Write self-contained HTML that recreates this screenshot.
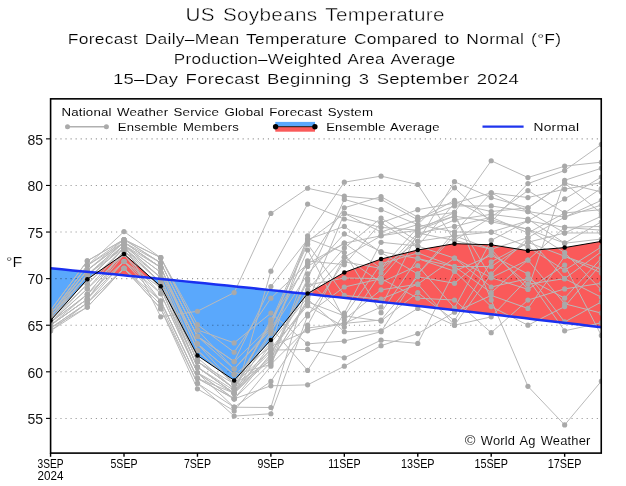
<!DOCTYPE html><html><head><meta charset="utf-8"><style>html,body{margin:0;padding:0;background:#fff;}svg{display:block;will-change:transform;}text{font-family:"Liberation Sans",sans-serif;}</style></head><body>
<svg width="626" height="486" viewBox="0 0 626 486">
<defs><clipPath id="c"><rect x="50.6" y="98.85" width="550.65" height="354.25"/></clipPath></defs>
<g clip-path="url(#c)">
<polygon fill="#5aa8fc" points="50.57,320.56 51.07,320.00 51.57,319.44 52.07,318.87 52.57,318.31 53.07,317.75 53.57,317.19 54.07,316.63 54.57,316.06 55.07,315.50 55.57,314.94 56.07,314.38 56.57,313.82 57.07,313.25 57.57,312.69 58.07,312.13 58.57,311.57 59.07,311.01 59.57,310.44 60.07,309.88 60.57,309.32 61.07,308.76 61.57,308.20 62.07,307.63 62.57,307.07 63.07,306.51 63.57,305.95 64.07,305.38 64.57,304.82 65.07,304.26 65.57,303.70 66.07,303.14 66.57,302.57 67.07,302.01 67.57,301.45 68.07,300.89 68.57,300.33 69.07,299.76 69.57,299.20 70.07,298.64 70.57,298.08 71.07,297.52 71.57,296.95 72.07,296.39 72.57,295.83 73.07,295.27 73.57,294.71 74.07,294.14 74.57,293.58 75.07,293.02 75.57,292.46 76.07,291.90 76.57,291.33 77.07,290.77 77.57,290.21 78.07,289.65 78.57,289.08 79.07,288.52 79.57,287.96 80.07,287.40 80.57,286.84 81.07,286.27 81.57,285.71 82.07,285.15 82.57,284.59 83.07,284.03 83.57,283.46 84.07,282.90 84.57,282.34 85.07,281.78 85.57,281.22 86.07,280.65 86.57,280.09 87.07,279.53 87.29,279.28 87.57,279.09 88.07,278.74 88.57,278.40 89.07,278.05 89.57,277.71 90.07,277.36 90.57,277.02 91.07,276.67 91.57,276.33 92.07,275.98 92.57,275.64 93.07,275.29 93.57,274.95 94.07,274.60 94.57,274.26 95.07,273.91 95.57,273.57 96.07,273.22 96.57,272.88 96.83,272.70 96.83,272.70 96.57,272.67 96.07,272.63 95.57,272.58 95.07,272.53 94.57,272.48 94.07,272.44 93.57,272.39 93.07,272.34 92.57,272.29 92.07,272.24 91.57,272.20 91.07,272.15 90.57,272.10 90.07,272.05 89.57,272.00 89.07,271.96 88.57,271.91 88.07,271.86 87.57,271.81 87.29,271.79 87.07,271.77 86.57,271.72 86.07,271.67 85.57,271.62 85.07,271.57 84.57,271.53 84.07,271.48 83.57,271.43 83.07,271.38 82.57,271.34 82.07,271.29 81.57,271.24 81.07,271.19 80.57,271.15 80.07,271.10 79.57,271.05 79.07,271.00 78.57,270.96 78.07,270.91 77.57,270.86 77.07,270.81 76.57,270.77 76.07,270.72 75.57,270.67 75.07,270.62 74.57,270.58 74.07,270.53 73.57,270.48 73.07,270.43 72.57,270.39 72.07,270.34 71.57,270.29 71.07,270.24 70.57,270.20 70.07,270.15 69.57,270.10 69.07,270.05 68.57,270.01 68.07,269.96 67.57,269.91 67.07,269.87 66.57,269.82 66.07,269.77 65.57,269.72 65.07,269.68 64.57,269.63 64.07,269.58 63.57,269.54 63.07,269.49 62.57,269.44 62.07,269.39 61.57,269.35 61.07,269.30 60.57,269.25 60.07,269.21 59.57,269.16 59.07,269.11 58.57,269.06 58.07,269.02 57.57,268.97 57.07,268.92 56.57,268.88 56.07,268.83 55.57,268.78 55.07,268.73 54.57,268.69 54.07,268.64 53.57,268.59 53.07,268.55 52.57,268.50 52.07,268.45 51.57,268.41 51.07,268.36 50.57,268.31"/>
<polygon fill="#fa5a5a" points="96.83,272.70 97.07,272.53 97.57,272.19 98.07,271.84 98.57,271.50 99.07,271.15 99.57,270.81 100.07,270.46 100.57,270.12 101.07,269.77 101.57,269.43 102.07,269.08 102.57,268.74 103.07,268.39 103.57,268.05 104.07,267.70 104.57,267.36 105.07,267.01 105.57,266.66 106.07,266.32 106.57,265.97 107.07,265.63 107.57,265.28 108.07,264.94 108.57,264.59 109.07,264.25 109.57,263.90 110.07,263.56 110.57,263.21 111.07,262.87 111.57,262.52 112.07,262.18 112.57,261.83 113.07,261.49 113.57,261.14 114.07,260.80 114.57,260.45 115.07,260.11 115.57,259.76 116.07,259.42 116.57,259.07 117.07,258.73 117.57,258.38 118.07,258.04 118.57,257.69 119.07,257.35 119.57,257.00 120.07,256.66 120.57,256.31 121.07,255.97 121.57,255.62 122.07,255.28 122.57,254.93 123.07,254.59 123.57,254.24 124.01,253.94 124.07,253.99 124.57,254.43 125.07,254.87 125.57,255.31 126.07,255.75 126.57,256.19 127.07,256.63 127.57,257.07 128.07,257.51 128.57,257.95 129.07,258.39 129.57,258.83 130.07,259.27 130.57,259.71 131.07,260.15 131.57,260.59 132.07,261.03 132.57,261.47 133.07,261.92 133.57,262.36 134.07,262.80 134.57,263.24 135.07,263.68 135.57,264.12 136.07,264.56 136.57,265.00 137.07,265.44 137.57,265.88 138.07,266.32 138.57,266.76 139.07,267.20 139.57,267.64 140.07,268.08 140.57,268.52 141.07,268.96 141.57,269.40 142.07,269.84 142.57,270.28 143.07,270.72 143.57,271.16 144.07,271.60 144.57,272.04 145.07,272.48 145.57,272.92 146.07,273.36 146.57,273.80 147.07,274.24 147.57,274.68 148.07,275.12 148.57,275.56 149.07,276.00 149.57,276.44 150.07,276.88 150.57,277.32 151.07,277.76 151.34,278.00 151.34,278.00 151.07,277.98 150.57,277.93 150.07,277.88 149.57,277.83 149.07,277.78 148.57,277.73 148.07,277.68 147.57,277.63 147.07,277.58 146.57,277.53 146.07,277.48 145.57,277.43 145.07,277.38 144.57,277.34 144.07,277.29 143.57,277.24 143.07,277.19 142.57,277.14 142.07,277.09 141.57,277.04 141.07,276.99 140.57,276.94 140.07,276.89 139.57,276.84 139.07,276.80 138.57,276.75 138.07,276.70 137.57,276.65 137.07,276.60 136.57,276.55 136.07,276.50 135.57,276.45 135.07,276.40 134.57,276.36 134.07,276.31 133.57,276.26 133.07,276.21 132.57,276.16 132.07,276.11 131.57,276.06 131.07,276.01 130.57,275.96 130.07,275.92 129.57,275.87 129.07,275.82 128.57,275.77 128.07,275.72 127.57,275.67 127.07,275.62 126.57,275.57 126.07,275.53 125.57,275.48 125.07,275.43 124.57,275.38 124.07,275.33 124.01,275.33 123.57,275.28 123.07,275.23 122.57,275.19 122.07,275.14 121.57,275.09 121.07,275.04 120.57,274.99 120.07,274.94 119.57,274.89 119.07,274.85 118.57,274.80 118.07,274.75 117.57,274.70 117.07,274.65 116.57,274.60 116.07,274.55 115.57,274.51 115.07,274.46 114.57,274.41 114.07,274.36 113.57,274.31 113.07,274.26 112.57,274.22 112.07,274.17 111.57,274.12 111.07,274.07 110.57,274.02 110.07,273.97 109.57,273.93 109.07,273.88 108.57,273.83 108.07,273.78 107.57,273.73 107.07,273.68 106.57,273.64 106.07,273.59 105.57,273.54 105.07,273.49 104.57,273.44 104.07,273.40 103.57,273.35 103.07,273.30 102.57,273.25 102.07,273.20 101.57,273.16 101.07,273.11 100.57,273.06 100.07,273.01 99.57,272.96 99.07,272.91 98.57,272.87 98.07,272.82 97.57,272.77 97.07,272.72 96.83,272.70"/>
<polygon fill="#5aa8fc" points="151.34,278.00 151.57,278.21 152.07,278.65 152.57,279.09 153.07,279.53 153.57,279.97 154.07,280.41 154.57,280.85 155.07,281.29 155.57,281.73 156.07,282.17 156.57,282.61 157.07,283.05 157.57,283.49 158.07,283.93 158.57,284.37 159.07,284.81 159.57,285.25 160.07,285.69 160.57,286.13 160.73,286.27 161.07,286.91 161.57,287.85 162.07,288.80 162.57,289.74 163.07,290.68 163.57,291.63 164.07,292.57 164.57,293.51 165.07,294.45 165.57,295.40 166.07,296.34 166.57,297.28 167.07,298.22 167.57,299.17 168.07,300.11 168.57,301.05 169.07,302.00 169.57,302.94 170.07,303.88 170.57,304.82 171.07,305.77 171.57,306.71 172.07,307.65 172.57,308.59 173.07,309.54 173.57,310.48 174.07,311.42 174.57,312.37 175.07,313.31 175.57,314.25 176.07,315.19 176.57,316.14 177.07,317.08 177.57,318.02 178.07,318.96 178.57,319.91 179.07,320.85 179.57,321.79 180.07,322.73 180.57,323.68 181.07,324.62 181.57,325.56 182.07,326.51 182.57,327.45 183.07,328.39 183.57,329.33 184.07,330.28 184.57,331.22 185.07,332.16 185.57,333.10 186.07,334.05 186.57,334.99 187.07,335.93 187.57,336.88 188.07,337.82 188.57,338.76 189.07,339.70 189.57,340.65 190.07,341.59 190.57,342.53 191.07,343.47 191.57,344.42 192.07,345.36 192.57,346.30 193.07,347.25 193.57,348.19 194.07,349.13 194.57,350.07 195.07,351.02 195.57,351.96 196.07,352.90 196.57,353.84 197.07,354.79 197.45,355.50 197.57,355.58 198.07,355.92 198.57,356.26 199.07,356.60 199.57,356.94 200.07,357.28 200.57,357.62 201.07,357.96 201.57,358.29 202.07,358.63 202.57,358.97 203.07,359.31 203.57,359.65 204.07,359.99 204.57,360.33 205.07,360.67 205.57,361.01 206.07,361.34 206.57,361.68 207.07,362.02 207.57,362.36 208.07,362.70 208.57,363.04 209.07,363.38 209.57,363.72 210.07,364.05 210.57,364.39 211.07,364.73 211.57,365.07 212.07,365.41 212.57,365.75 213.07,366.09 213.57,366.43 214.07,366.76 214.57,367.10 215.07,367.44 215.57,367.78 216.07,368.12 216.57,368.46 217.07,368.80 217.57,369.14 218.07,369.47 218.57,369.81 219.07,370.15 219.57,370.49 220.07,370.83 220.57,371.17 221.07,371.51 221.57,371.85 222.07,372.18 222.57,372.52 223.07,372.86 223.57,373.20 224.07,373.54 224.57,373.88 225.07,374.22 225.57,374.56 226.07,374.89 226.57,375.23 227.07,375.57 227.57,375.91 228.07,376.25 228.57,376.59 229.07,376.93 229.57,377.27 230.07,377.60 230.57,377.94 231.07,378.28 231.57,378.62 232.07,378.96 232.57,379.30 233.07,379.64 233.57,379.98 234.07,380.31 234.17,380.38 234.57,379.94 235.07,379.39 235.57,378.84 236.07,378.29 236.57,377.74 237.07,377.19 237.57,376.64 238.07,376.09 238.57,375.54 239.07,374.99 239.57,374.44 240.07,373.88 240.57,373.33 241.07,372.78 241.57,372.23 242.07,371.68 242.57,371.13 243.07,370.58 243.57,370.03 244.07,369.48 244.57,368.93 245.07,368.38 245.57,367.83 246.07,367.28 246.57,366.73 247.07,366.18 247.57,365.62 248.07,365.07 248.57,364.52 249.07,363.97 249.57,363.42 250.07,362.87 250.57,362.32 251.07,361.77 251.57,361.22 252.07,360.67 252.57,360.12 253.07,359.57 253.57,359.02 254.07,358.47 254.57,357.92 255.07,357.37 255.57,356.81 256.07,356.26 256.57,355.71 257.07,355.16 257.57,354.61 258.07,354.06 258.57,353.51 259.07,352.96 259.57,352.41 260.07,351.86 260.57,351.31 261.07,350.76 261.57,350.21 262.07,349.66 262.57,349.11 263.07,348.55 263.57,348.00 264.07,347.45 264.57,346.90 265.07,346.35 265.57,345.80 266.07,345.25 266.57,344.70 267.07,344.15 267.57,343.60 268.07,343.05 268.57,342.50 269.07,341.95 269.57,341.40 270.07,340.85 270.57,340.29 270.89,339.94 271.07,339.71 271.57,339.08 272.07,338.45 272.57,337.82 273.07,337.19 273.57,336.56 274.07,335.92 274.57,335.29 275.07,334.66 275.57,334.03 276.07,333.40 276.57,332.76 277.07,332.13 277.57,331.50 278.07,330.87 278.57,330.24 279.07,329.61 279.57,328.97 280.07,328.34 280.57,327.71 281.07,327.08 281.57,326.45 282.07,325.81 282.57,325.18 283.07,324.55 283.57,323.92 284.07,323.29 284.57,322.65 285.07,322.02 285.57,321.39 286.07,320.76 286.57,320.13 287.07,319.50 287.57,318.86 288.07,318.23 288.57,317.60 289.07,316.97 289.57,316.34 290.07,315.70 290.57,315.07 291.07,314.44 291.57,313.81 292.07,313.18 292.57,312.55 293.07,311.91 293.57,311.28 294.07,310.65 294.57,310.02 295.07,309.39 295.57,308.75 296.07,308.12 296.57,307.49 297.07,306.86 297.57,306.23 298.07,305.59 298.57,304.96 299.07,304.33 299.57,303.70 300.07,303.07 300.57,302.44 301.07,301.80 301.57,301.17 302.07,300.54 302.57,299.91 303.07,299.28 303.57,298.64 304.07,298.01 304.57,297.38 305.07,296.75 305.57,296.12 306.07,295.48 306.57,294.85 307.07,294.22 307.28,293.96 307.28,293.96 307.07,293.94 306.57,293.88 306.07,293.83 305.57,293.78 305.07,293.72 304.57,293.67 304.07,293.62 303.57,293.57 303.07,293.51 302.57,293.46 302.07,293.41 301.57,293.35 301.07,293.30 300.57,293.25 300.07,293.19 299.57,293.14 299.07,293.09 298.57,293.04 298.07,292.98 297.57,292.93 297.07,292.88 296.57,292.83 296.07,292.77 295.57,292.72 295.07,292.67 294.57,292.61 294.07,292.56 293.57,292.51 293.07,292.46 292.57,292.40 292.07,292.35 291.57,292.30 291.07,292.25 290.57,292.19 290.07,292.14 289.57,292.09 289.07,292.03 288.57,291.98 288.07,291.93 287.57,291.88 287.07,291.82 286.57,291.77 286.07,291.72 285.57,291.67 285.07,291.61 284.57,291.56 284.07,291.51 283.57,291.46 283.07,291.40 282.57,291.35 282.07,291.30 281.57,291.25 281.07,291.19 280.57,291.14 280.07,291.09 279.57,291.04 279.07,290.99 278.57,290.93 278.07,290.88 277.57,290.83 277.07,290.78 276.57,290.72 276.07,290.67 275.57,290.62 275.07,290.57 274.57,290.51 274.07,290.46 273.57,290.41 273.07,290.36 272.57,290.31 272.07,290.25 271.57,290.20 271.07,290.15 270.89,290.13 270.57,290.10 270.07,290.04 269.57,289.99 269.07,289.94 268.57,289.89 268.07,289.84 267.57,289.78 267.07,289.73 266.57,289.68 266.07,289.63 265.57,289.58 265.07,289.52 264.57,289.47 264.07,289.42 263.57,289.37 263.07,289.32 262.57,289.26 262.07,289.21 261.57,289.16 261.07,289.11 260.57,289.06 260.07,289.00 259.57,288.95 259.07,288.90 258.57,288.85 258.07,288.80 257.57,288.74 257.07,288.69 256.57,288.64 256.07,288.59 255.57,288.54 255.07,288.49 254.57,288.43 254.07,288.38 253.57,288.33 253.07,288.28 252.57,288.23 252.07,288.18 251.57,288.12 251.07,288.07 250.57,288.02 250.07,287.97 249.57,287.92 249.07,287.87 248.57,287.81 248.07,287.76 247.57,287.71 247.07,287.66 246.57,287.61 246.07,287.56 245.57,287.50 245.07,287.45 244.57,287.40 244.07,287.35 243.57,287.30 243.07,287.25 242.57,287.19 242.07,287.14 241.57,287.09 241.07,287.04 240.57,286.99 240.07,286.94 239.57,286.89 239.07,286.83 238.57,286.78 238.07,286.73 237.57,286.68 237.07,286.63 236.57,286.58 236.07,286.53 235.57,286.48 235.07,286.42 234.57,286.37 234.17,286.33 234.07,286.32 233.57,286.27 233.07,286.22 232.57,286.17 232.07,286.12 231.57,286.07 231.07,286.01 230.57,285.96 230.07,285.91 229.57,285.86 229.07,285.81 228.57,285.76 228.07,285.71 227.57,285.66 227.07,285.60 226.57,285.55 226.07,285.50 225.57,285.45 225.07,285.40 224.57,285.35 224.07,285.30 223.57,285.25 223.07,285.20 222.57,285.15 222.07,285.09 221.57,285.04 221.07,284.99 220.57,284.94 220.07,284.89 219.57,284.84 219.07,284.79 218.57,284.74 218.07,284.69 217.57,284.64 217.07,284.59 216.57,284.53 216.07,284.48 215.57,284.43 215.07,284.38 214.57,284.33 214.07,284.28 213.57,284.23 213.07,284.18 212.57,284.13 212.07,284.08 211.57,284.03 211.07,283.98 210.57,283.92 210.07,283.87 209.57,283.82 209.07,283.77 208.57,283.72 208.07,283.67 207.57,283.62 207.07,283.57 206.57,283.52 206.07,283.47 205.57,283.42 205.07,283.37 204.57,283.32 204.07,283.27 203.57,283.22 203.07,283.17 202.57,283.11 202.07,283.06 201.57,283.01 201.07,282.96 200.57,282.91 200.07,282.86 199.57,282.81 199.07,282.76 198.57,282.71 198.07,282.66 197.57,282.61 197.45,282.60 197.07,282.56 196.57,282.51 196.07,282.46 195.57,282.41 195.07,282.36 194.57,282.31 194.07,282.26 193.57,282.21 193.07,282.16 192.57,282.11 192.07,282.06 191.57,282.01 191.07,281.96 190.57,281.91 190.07,281.86 189.57,281.81 189.07,281.76 188.57,281.71 188.07,281.65 187.57,281.60 187.07,281.55 186.57,281.50 186.07,281.45 185.57,281.40 185.07,281.35 184.57,281.30 184.07,281.25 183.57,281.20 183.07,281.15 182.57,281.10 182.07,281.05 181.57,281.00 181.07,280.95 180.57,280.90 180.07,280.85 179.57,280.80 179.07,280.75 178.57,280.70 178.07,280.65 177.57,280.60 177.07,280.55 176.57,280.50 176.07,280.45 175.57,280.40 175.07,280.35 174.57,280.30 174.07,280.25 173.57,280.21 173.07,280.16 172.57,280.11 172.07,280.06 171.57,280.01 171.07,279.96 170.57,279.91 170.07,279.86 169.57,279.81 169.07,279.76 168.57,279.71 168.07,279.66 167.57,279.61 167.07,279.56 166.57,279.51 166.07,279.46 165.57,279.41 165.07,279.36 164.57,279.31 164.07,279.26 163.57,279.21 163.07,279.16 162.57,279.11 162.07,279.06 161.57,279.01 161.07,278.96 160.73,278.93 160.57,278.91 160.07,278.86 159.57,278.81 159.07,278.77 158.57,278.72 158.07,278.67 157.57,278.62 157.07,278.57 156.57,278.52 156.07,278.47 155.57,278.42 155.07,278.37 154.57,278.32 154.07,278.27 153.57,278.22 153.07,278.17 152.57,278.12 152.07,278.07 151.57,278.02 151.34,278.00"/>
<polygon fill="#fa5a5a" points="307.28,293.96 307.57,293.59 307.61,293.54 308.07,293.27 308.57,292.99 309.07,292.70 309.57,292.41 310.07,292.12 310.57,291.83 311.07,291.55 311.57,291.26 312.07,290.97 312.57,290.68 313.07,290.39 313.57,290.11 314.07,289.82 314.57,289.53 315.07,289.24 315.57,288.95 316.07,288.67 316.57,288.38 317.07,288.09 317.57,287.80 318.07,287.51 318.57,287.23 319.07,286.94 319.57,286.65 320.07,286.36 320.57,286.07 321.07,285.79 321.57,285.50 322.07,285.21 322.57,284.92 323.07,284.63 323.57,284.35 324.07,284.06 324.57,283.77 325.07,283.48 325.57,283.19 326.07,282.91 326.57,282.62 327.07,282.33 327.57,282.04 328.07,281.75 328.57,281.47 329.07,281.18 329.57,280.89 330.07,280.60 330.57,280.31 331.07,280.03 331.57,279.74 332.07,279.45 332.57,279.16 333.07,278.87 333.57,278.59 334.07,278.30 334.57,278.01 335.07,277.72 335.57,277.43 336.07,277.14 336.57,276.86 337.07,276.57 337.57,276.28 338.07,275.99 338.57,275.70 339.07,275.42 339.57,275.13 340.07,274.84 340.57,274.55 341.07,274.26 341.57,273.98 342.07,273.69 342.57,273.40 343.07,273.11 343.57,272.82 344.07,272.54 344.33,272.39 344.57,272.30 345.07,272.12 345.57,271.94 346.07,271.76 346.57,271.57 347.07,271.39 347.57,271.21 348.07,271.03 348.57,270.85 349.07,270.67 349.57,270.49 350.07,270.30 350.57,270.12 351.07,269.94 351.57,269.76 352.07,269.58 352.57,269.40 353.07,269.22 353.57,269.03 354.07,268.85 354.57,268.67 355.07,268.49 355.57,268.31 356.07,268.13 356.57,267.95 357.07,267.76 357.57,267.58 358.07,267.40 358.57,267.22 359.07,267.04 359.57,266.86 360.07,266.68 360.57,266.49 361.07,266.31 361.57,266.13 362.07,265.95 362.57,265.77 363.07,265.59 363.57,265.41 364.07,265.22 364.57,265.04 365.07,264.86 365.57,264.68 366.07,264.50 366.57,264.32 367.07,264.14 367.57,263.95 368.07,263.77 368.57,263.59 369.07,263.41 369.57,263.23 370.07,263.05 370.57,262.87 371.07,262.68 371.57,262.50 372.07,262.32 372.57,262.14 373.07,261.96 373.57,261.78 374.07,261.60 374.57,261.41 375.07,261.23 375.57,261.05 376.07,260.87 376.57,260.69 377.07,260.51 377.57,260.33 378.07,260.14 378.57,259.96 379.07,259.78 379.57,259.60 380.07,259.42 380.57,259.24 381.05,259.06 381.07,259.06 381.57,258.93 382.07,258.81 382.57,258.69 383.07,258.56 383.57,258.44 384.07,258.32 384.57,258.20 385.07,258.07 385.57,257.95 386.07,257.83 386.57,257.70 387.07,257.58 387.57,257.46 388.07,257.33 388.57,257.21 389.07,257.09 389.57,256.97 390.07,256.84 390.57,256.72 391.07,256.60 391.57,256.47 392.07,256.35 392.57,256.23 393.07,256.10 393.57,255.98 394.07,255.86 394.57,255.73 395.07,255.61 395.57,255.49 396.07,255.37 396.57,255.24 397.07,255.12 397.57,255.00 398.07,254.87 398.57,254.75 399.07,254.63 399.57,254.50 400.07,254.38 400.57,254.26 401.07,254.13 401.57,254.01 402.07,253.89 402.57,253.77 403.07,253.64 403.57,253.52 404.07,253.40 404.57,253.27 405.07,253.15 405.57,253.03 406.07,252.90 406.57,252.78 407.07,252.66 407.57,252.53 408.07,252.41 408.57,252.29 409.07,252.17 409.57,252.04 410.07,251.92 410.57,251.80 411.07,251.67 411.57,251.55 412.07,251.43 412.57,251.30 413.07,251.18 413.57,251.06 414.07,250.93 414.57,250.81 415.07,250.69 415.57,250.57 416.07,250.44 416.57,250.32 417.07,250.20 417.57,250.07 417.77,250.02 418.07,249.97 418.57,249.89 419.07,249.80 419.57,249.71 420.07,249.63 420.57,249.54 421.07,249.45 421.57,249.37 422.07,249.28 422.57,249.20 423.07,249.11 423.57,249.02 424.07,248.94 424.57,248.85 425.07,248.76 425.57,248.68 426.07,248.59 426.57,248.51 427.07,248.42 427.57,248.33 428.07,248.25 428.57,248.16 429.07,248.07 429.57,247.99 430.07,247.90 430.57,247.82 431.07,247.73 431.57,247.64 432.07,247.56 432.57,247.47 433.07,247.38 433.57,247.30 434.07,247.21 434.57,247.12 435.07,247.04 435.57,246.95 436.07,246.87 436.57,246.78 437.07,246.69 437.57,246.61 438.07,246.52 438.57,246.43 439.07,246.35 439.57,246.26 440.07,246.18 440.57,246.09 441.07,246.00 441.57,245.92 442.07,245.83 442.57,245.74 443.07,245.66 443.57,245.57 444.07,245.49 444.57,245.40 445.07,245.31 445.57,245.23 446.07,245.14 446.57,245.05 447.07,244.97 447.57,244.88 448.07,244.80 448.57,244.71 449.07,244.62 449.57,244.54 450.07,244.45 450.57,244.36 451.07,244.28 451.57,244.19 452.07,244.11 452.57,244.02 453.07,243.93 453.57,243.85 454.07,243.76 454.49,243.69 454.57,243.69 455.07,243.71 455.57,243.72 456.07,243.74 456.57,243.75 457.07,243.77 457.57,243.78 458.07,243.80 458.57,243.81 459.07,243.83 459.57,243.84 460.07,243.86 460.57,243.87 461.07,243.89 461.57,243.90 462.07,243.92 462.57,243.93 463.07,243.95 463.57,243.96 464.07,243.98 464.57,243.99 465.07,244.01 465.57,244.02 466.07,244.04 466.57,244.06 467.07,244.07 467.57,244.09 468.07,244.10 468.57,244.12 469.07,244.13 469.57,244.15 470.07,244.16 470.57,244.18 471.07,244.19 471.57,244.21 472.07,244.22 472.57,244.24 473.07,244.25 473.57,244.27 474.07,244.28 474.57,244.30 475.07,244.31 475.57,244.33 476.07,244.34 476.57,244.36 477.07,244.38 477.57,244.39 478.07,244.41 478.57,244.42 479.07,244.44 479.57,244.45 480.07,244.47 480.57,244.48 481.07,244.50 481.57,244.51 482.07,244.53 482.57,244.54 483.07,244.56 483.57,244.57 484.07,244.59 484.57,244.60 485.07,244.62 485.57,244.63 486.07,244.65 486.57,244.66 487.07,244.68 487.57,244.69 488.07,244.71 488.57,244.73 489.07,244.74 489.57,244.76 490.07,244.77 490.57,244.79 491.07,244.80 491.21,244.81 491.57,244.86 492.07,244.94 492.57,245.02 493.07,245.10 493.57,245.18 494.07,245.26 494.57,245.34 495.07,245.42 495.57,245.50 496.07,245.58 496.57,245.66 497.07,245.74 497.57,245.82 498.07,245.90 498.57,245.98 499.07,246.06 499.57,246.14 500.07,246.22 500.57,246.30 501.07,246.38 501.57,246.46 502.07,246.54 502.57,246.62 503.07,246.70 503.57,246.78 504.07,246.86 504.57,246.94 505.07,247.02 505.57,247.10 506.07,247.18 506.57,247.26 507.07,247.34 507.57,247.42 508.07,247.50 508.57,247.58 509.07,247.66 509.57,247.74 510.07,247.82 510.57,247.90 511.07,247.98 511.57,248.06 512.07,248.14 512.57,248.22 513.07,248.30 513.57,248.38 514.07,248.46 514.57,248.54 515.07,248.62 515.57,248.70 516.07,248.78 516.57,248.86 517.07,248.94 517.57,249.02 518.07,249.10 518.57,249.18 519.07,249.26 519.57,249.34 520.07,249.42 520.57,249.50 521.07,249.58 521.57,249.66 522.07,249.74 522.57,249.82 523.07,249.90 523.57,249.98 524.07,250.06 524.57,250.14 525.07,250.22 525.57,250.30 526.07,250.38 526.57,250.46 527.07,250.54 527.57,250.62 527.93,250.68 528.07,250.66 528.57,250.62 529.07,250.58 529.57,250.54 530.07,250.50 530.57,250.45 531.07,250.41 531.57,250.37 532.07,250.33 532.57,250.29 533.07,250.25 533.57,250.20 534.07,250.16 534.57,250.12 535.07,250.08 535.57,250.04 536.07,249.99 536.57,249.95 537.07,249.91 537.57,249.87 538.07,249.83 538.57,249.79 539.07,249.74 539.57,249.70 540.07,249.66 540.57,249.62 541.07,249.58 541.57,249.53 542.07,249.49 542.57,249.45 543.07,249.41 543.57,249.37 544.07,249.32 544.57,249.28 545.07,249.24 545.57,249.20 546.07,249.16 546.57,249.12 547.07,249.07 547.57,249.03 548.07,248.99 548.57,248.95 549.07,248.91 549.57,248.86 550.07,248.82 550.57,248.78 551.07,248.74 551.57,248.70 552.07,248.65 552.57,248.61 553.07,248.57 553.57,248.53 554.07,248.49 554.57,248.45 555.07,248.40 555.57,248.36 556.07,248.32 556.57,248.28 557.07,248.24 557.57,248.19 558.07,248.15 558.57,248.11 559.07,248.07 559.57,248.03 560.07,247.98 560.57,247.94 561.07,247.90 561.57,247.86 562.07,247.82 562.57,247.78 563.07,247.73 563.57,247.69 564.07,247.65 564.57,247.61 564.65,247.60 565.07,247.53 565.57,247.44 566.07,247.36 566.57,247.27 567.07,247.19 567.57,247.10 568.07,247.02 568.57,246.93 569.07,246.85 569.57,246.76 570.07,246.68 570.57,246.59 571.07,246.51 571.57,246.42 572.07,246.34 572.57,246.25 573.07,246.17 573.57,246.08 574.07,246.00 574.57,245.91 575.07,245.83 575.57,245.74 576.07,245.66 576.57,245.57 577.07,245.49 577.57,245.40 578.07,245.32 578.57,245.23 579.07,245.15 579.57,245.06 580.07,244.98 580.57,244.89 581.07,244.81 581.57,244.72 582.07,244.64 582.57,244.55 583.07,244.47 583.57,244.38 584.07,244.30 584.57,244.21 585.07,244.13 585.57,244.04 586.07,243.96 586.57,243.87 587.07,243.79 587.57,243.70 588.07,243.62 588.57,243.53 589.07,243.45 589.57,243.36 590.07,243.28 590.57,243.19 591.07,243.11 591.57,243.02 592.07,242.94 592.57,242.85 593.07,242.77 593.57,242.68 594.07,242.60 594.57,242.51 595.07,242.43 595.57,242.34 596.07,242.26 596.57,242.17 597.07,242.09 597.57,242.00 598.07,241.92 598.57,241.83 599.07,241.75 599.57,241.66 600.07,241.58 600.57,241.49 601.07,241.41 601.37,241.36 601.37,327.23 601.07,327.20 600.57,327.14 600.07,327.08 599.57,327.02 599.07,326.96 598.57,326.90 598.07,326.84 597.57,326.78 597.07,326.72 596.57,326.66 596.07,326.60 595.57,326.54 595.07,326.48 594.57,326.42 594.07,326.36 593.57,326.30 593.07,326.24 592.57,326.18 592.07,326.12 591.57,326.06 591.07,326.00 590.57,325.94 590.07,325.88 589.57,325.82 589.07,325.76 588.57,325.70 588.07,325.64 587.57,325.58 587.07,325.52 586.57,325.46 586.07,325.40 585.57,325.34 585.07,325.28 584.57,325.22 584.07,325.16 583.57,325.10 583.07,325.04 582.57,324.98 582.07,324.92 581.57,324.86 581.07,324.80 580.57,324.74 580.07,324.68 579.57,324.62 579.07,324.56 578.57,324.50 578.07,324.45 577.57,324.39 577.07,324.33 576.57,324.27 576.07,324.21 575.57,324.15 575.07,324.09 574.57,324.03 574.07,323.97 573.57,323.91 573.07,323.85 572.57,323.79 572.07,323.73 571.57,323.67 571.07,323.61 570.57,323.55 570.07,323.49 569.57,323.43 569.07,323.38 568.57,323.32 568.07,323.26 567.57,323.20 567.07,323.14 566.57,323.08 566.07,323.02 565.57,322.96 565.07,322.90 564.65,322.85 564.57,322.84 564.07,322.78 563.57,322.72 563.07,322.66 562.57,322.60 562.07,322.55 561.57,322.49 561.07,322.43 560.57,322.37 560.07,322.31 559.57,322.25 559.07,322.19 558.57,322.13 558.07,322.07 557.57,322.01 557.07,321.95 556.57,321.90 556.07,321.84 555.57,321.78 555.07,321.72 554.57,321.66 554.07,321.60 553.57,321.54 553.07,321.48 552.57,321.42 552.07,321.36 551.57,321.31 551.07,321.25 550.57,321.19 550.07,321.13 549.57,321.07 549.07,321.01 548.57,320.95 548.07,320.89 547.57,320.84 547.07,320.78 546.57,320.72 546.07,320.66 545.57,320.60 545.07,320.54 544.57,320.48 544.07,320.42 543.57,320.37 543.07,320.31 542.57,320.25 542.07,320.19 541.57,320.13 541.07,320.07 540.57,320.01 540.07,319.95 539.57,319.90 539.07,319.84 538.57,319.78 538.07,319.72 537.57,319.66 537.07,319.60 536.57,319.54 536.07,319.49 535.57,319.43 535.07,319.37 534.57,319.31 534.07,319.25 533.57,319.19 533.07,319.13 532.57,319.08 532.07,319.02 531.57,318.96 531.07,318.90 530.57,318.84 530.07,318.78 529.57,318.73 529.07,318.67 528.57,318.61 528.07,318.55 527.93,318.53 527.57,318.49 527.07,318.43 526.57,318.38 526.07,318.32 525.57,318.26 525.07,318.20 524.57,318.14 524.07,318.08 523.57,318.03 523.07,317.97 522.57,317.91 522.07,317.85 521.57,317.79 521.07,317.73 520.57,317.68 520.07,317.62 519.57,317.56 519.07,317.50 518.57,317.44 518.07,317.39 517.57,317.33 517.07,317.27 516.57,317.21 516.07,317.15 515.57,317.10 515.07,317.04 514.57,316.98 514.07,316.92 513.57,316.86 513.07,316.81 512.57,316.75 512.07,316.69 511.57,316.63 511.07,316.57 510.57,316.52 510.07,316.46 509.57,316.40 509.07,316.34 508.57,316.28 508.07,316.23 507.57,316.17 507.07,316.11 506.57,316.05 506.07,315.99 505.57,315.94 505.07,315.88 504.57,315.82 504.07,315.76 503.57,315.71 503.07,315.65 502.57,315.59 502.07,315.53 501.57,315.48 501.07,315.42 500.57,315.36 500.07,315.30 499.57,315.24 499.07,315.19 498.57,315.13 498.07,315.07 497.57,315.01 497.07,314.96 496.57,314.90 496.07,314.84 495.57,314.78 495.07,314.73 494.57,314.67 494.07,314.61 493.57,314.55 493.07,314.50 492.57,314.44 492.07,314.38 491.57,314.32 491.21,314.28 491.07,314.27 490.57,314.21 490.07,314.15 489.57,314.09 489.07,314.04 488.57,313.98 488.07,313.92 487.57,313.86 487.07,313.81 486.57,313.75 486.07,313.69 485.57,313.63 485.07,313.58 484.57,313.52 484.07,313.46 483.57,313.41 483.07,313.35 482.57,313.29 482.07,313.23 481.57,313.18 481.07,313.12 480.57,313.06 480.07,313.00 479.57,312.95 479.07,312.89 478.57,312.83 478.07,312.78 477.57,312.72 477.07,312.66 476.57,312.60 476.07,312.55 475.57,312.49 475.07,312.43 474.57,312.38 474.07,312.32 473.57,312.26 473.07,312.21 472.57,312.15 472.07,312.09 471.57,312.03 471.07,311.98 470.57,311.92 470.07,311.86 469.57,311.81 469.07,311.75 468.57,311.69 468.07,311.64 467.57,311.58 467.07,311.52 466.57,311.46 466.07,311.41 465.57,311.35 465.07,311.29 464.57,311.24 464.07,311.18 463.57,311.12 463.07,311.07 462.57,311.01 462.07,310.95 461.57,310.90 461.07,310.84 460.57,310.78 460.07,310.73 459.57,310.67 459.07,310.61 458.57,310.56 458.07,310.50 457.57,310.44 457.07,310.39 456.57,310.33 456.07,310.27 455.57,310.22 455.07,310.16 454.57,310.10 454.49,310.09 454.07,310.05 453.57,309.99 453.07,309.93 452.57,309.88 452.07,309.82 451.57,309.76 451.07,309.71 450.57,309.65 450.07,309.59 449.57,309.54 449.07,309.48 448.57,309.43 448.07,309.37 447.57,309.31 447.07,309.26 446.57,309.20 446.07,309.14 445.57,309.09 445.07,309.03 444.57,308.97 444.07,308.92 443.57,308.86 443.07,308.81 442.57,308.75 442.07,308.69 441.57,308.64 441.07,308.58 440.57,308.52 440.07,308.47 439.57,308.41 439.07,308.36 438.57,308.30 438.07,308.24 437.57,308.19 437.07,308.13 436.57,308.07 436.07,308.02 435.57,307.96 435.07,307.91 434.57,307.85 434.07,307.79 433.57,307.74 433.07,307.68 432.57,307.63 432.07,307.57 431.57,307.51 431.07,307.46 430.57,307.40 430.07,307.35 429.57,307.29 429.07,307.23 428.57,307.18 428.07,307.12 427.57,307.07 427.07,307.01 426.57,306.95 426.07,306.90 425.57,306.84 425.07,306.79 424.57,306.73 424.07,306.67 423.57,306.62 423.07,306.56 422.57,306.51 422.07,306.45 421.57,306.40 421.07,306.34 420.57,306.28 420.07,306.23 419.57,306.17 419.07,306.12 418.57,306.06 418.07,306.01 417.77,305.97 417.57,305.95 417.07,305.89 416.57,305.84 416.07,305.78 415.57,305.73 415.07,305.67 414.57,305.62 414.07,305.56 413.57,305.50 413.07,305.45 412.57,305.39 412.07,305.34 411.57,305.28 411.07,305.23 410.57,305.17 410.07,305.12 409.57,305.06 409.07,305.00 408.57,304.95 408.07,304.89 407.57,304.84 407.07,304.78 406.57,304.73 406.07,304.67 405.57,304.62 405.07,304.56 404.57,304.51 404.07,304.45 403.57,304.40 403.07,304.34 402.57,304.28 402.07,304.23 401.57,304.17 401.07,304.12 400.57,304.06 400.07,304.01 399.57,303.95 399.07,303.90 398.57,303.84 398.07,303.79 397.57,303.73 397.07,303.68 396.57,303.62 396.07,303.57 395.57,303.51 395.07,303.46 394.57,303.40 394.07,303.35 393.57,303.29 393.07,303.24 392.57,303.18 392.07,303.13 391.57,303.07 391.07,303.02 390.57,302.96 390.07,302.91 389.57,302.85 389.07,302.80 388.57,302.74 388.07,302.69 387.57,302.63 387.07,302.58 386.57,302.52 386.07,302.47 385.57,302.41 385.07,302.36 384.57,302.30 384.07,302.25 383.57,302.19 383.07,302.14 382.57,302.08 382.07,302.03 381.57,301.97 381.07,301.92 381.05,301.91 380.57,301.86 380.07,301.81 379.57,301.75 379.07,301.70 378.57,301.64 378.07,301.59 377.57,301.53 377.07,301.48 376.57,301.42 376.07,301.37 375.57,301.31 375.07,301.26 374.57,301.20 374.07,301.15 373.57,301.10 373.07,301.04 372.57,300.99 372.07,300.93 371.57,300.88 371.07,300.82 370.57,300.77 370.07,300.71 369.57,300.66 369.07,300.60 368.57,300.55 368.07,300.50 367.57,300.44 367.07,300.39 366.57,300.33 366.07,300.28 365.57,300.22 365.07,300.17 364.57,300.11 364.07,300.06 363.57,300.01 363.07,299.95 362.57,299.90 362.07,299.84 361.57,299.79 361.07,299.73 360.57,299.68 360.07,299.63 359.57,299.57 359.07,299.52 358.57,299.46 358.07,299.41 357.57,299.35 357.07,299.30 356.57,299.25 356.07,299.19 355.57,299.14 355.07,299.08 354.57,299.03 354.07,298.97 353.57,298.92 353.07,298.87 352.57,298.81 352.07,298.76 351.57,298.70 351.07,298.65 350.57,298.60 350.07,298.54 349.57,298.49 349.07,298.43 348.57,298.38 348.07,298.33 347.57,298.27 347.07,298.22 346.57,298.16 346.07,298.11 345.57,298.06 345.07,298.00 344.57,297.95 344.33,297.92 344.07,297.89 343.57,297.84 343.07,297.79 342.57,297.73 342.07,297.68 341.57,297.62 341.07,297.57 340.57,297.52 340.07,297.46 339.57,297.41 339.07,297.35 338.57,297.30 338.07,297.25 337.57,297.19 337.07,297.14 336.57,297.09 336.07,297.03 335.57,296.98 335.07,296.92 334.57,296.87 334.07,296.82 333.57,296.76 333.07,296.71 332.57,296.66 332.07,296.60 331.57,296.55 331.07,296.50 330.57,296.44 330.07,296.39 329.57,296.33 329.07,296.28 328.57,296.23 328.07,296.17 327.57,296.12 327.07,296.07 326.57,296.01 326.07,295.96 325.57,295.91 325.07,295.85 324.57,295.80 324.07,295.75 323.57,295.69 323.07,295.64 322.57,295.59 322.07,295.53 321.57,295.48 321.07,295.43 320.57,295.37 320.07,295.32 319.57,295.27 319.07,295.21 318.57,295.16 318.07,295.11 317.57,295.05 317.07,295.00 316.57,294.95 316.07,294.89 315.57,294.84 315.07,294.79 314.57,294.73 314.07,294.68 313.57,294.63 313.07,294.57 312.57,294.52 312.07,294.47 311.57,294.41 311.07,294.36 310.57,294.31 310.07,294.25 309.57,294.20 309.07,294.15 308.57,294.10 308.07,294.04 307.61,293.99 307.57,293.99 307.28,293.96"/>
<line x1="55.35" y1="418.40" x2="601.25" y2="418.40" stroke="#000" stroke-opacity="0.4" stroke-width="1.05" stroke-dasharray="1.15 3.91"/>
<line x1="55.35" y1="371.81" x2="601.25" y2="371.81" stroke="#000" stroke-opacity="0.4" stroke-width="1.05" stroke-dasharray="1.15 3.91"/>
<line x1="55.35" y1="325.22" x2="601.25" y2="325.22" stroke="#000" stroke-opacity="0.4" stroke-width="1.05" stroke-dasharray="1.15 3.91"/>
<line x1="55.35" y1="278.63" x2="601.25" y2="278.63" stroke="#000" stroke-opacity="0.4" stroke-width="1.05" stroke-dasharray="1.15 3.91"/>
<line x1="55.35" y1="232.04" x2="601.25" y2="232.04" stroke="#000" stroke-opacity="0.4" stroke-width="1.05" stroke-dasharray="1.15 3.91"/>
<line x1="55.35" y1="185.45" x2="601.25" y2="185.45" stroke="#000" stroke-opacity="0.4" stroke-width="1.05" stroke-dasharray="1.15 3.91"/>
<line x1="55.35" y1="138.86" x2="601.25" y2="138.86" stroke="#000" stroke-opacity="0.4" stroke-width="1.05" stroke-dasharray="1.15 3.91"/>
<polyline fill="none" stroke="#b9b9b9" stroke-width="1" points="50.57,316.83 87.29,274.90 124.01,242.29 160.73,316.83 197.45,311.24 234.17,292.61 270.89,213.40 307.61,188.25 344.33,196.17 381.05,199.43 417.77,219.93 454.49,205.95 491.21,205.95 527.93,211.54 564.65,217.13 601.37,205.02"/>
<polyline fill="none" stroke="#b9b9b9" stroke-width="1" points="50.57,328.02 87.29,302.86 124.01,261.48 160.73,287.95 197.45,372.74 234.17,398.83 270.89,271.18 307.61,204.09 344.33,218.99 381.05,227.38 417.77,230.18 454.49,216.20 491.21,221.79 527.93,229.24 564.65,243.22 601.37,239.03"/>
<polyline fill="none" stroke="#b9b9b9" stroke-width="1" points="50.57,325.22 87.29,294.47 124.01,250.68 160.73,287.95 197.45,367.15 234.17,393.24 270.89,344.72 307.61,235.77 344.33,182.19 381.05,176.13 417.77,184.52 454.49,240.43 491.21,249.28 527.93,237.63 564.65,217.13 601.37,200.36"/>
<polyline fill="none" stroke="#b9b9b9" stroke-width="1" points="50.57,325.22 87.29,299.13 124.01,250.68 160.73,287.95 197.45,372.74 234.17,398.83 270.89,353.68 307.61,289.81 344.33,247.88 381.05,218.06 417.77,241.36 454.49,181.72 491.21,197.56 527.93,207.81 564.65,183.12 601.37,191.97"/>
<polyline fill="none" stroke="#b9b9b9" stroke-width="1" points="50.57,330.81 87.29,302.86 124.01,268.38 160.73,308.63 197.45,383.27 234.17,407.22 270.89,381.41 307.61,325.22 344.33,257.20 381.05,235.77 417.77,230.18 454.49,212.47 491.21,160.76 527.93,177.53 564.65,166.16 601.37,162.15"/>
<polyline fill="none" stroke="#b9b9b9" stroke-width="1" points="50.57,314.04 87.29,265.58 124.01,231.57 160.73,257.66 197.45,324.66 234.17,352.24 270.89,298.20 307.61,263.72 344.33,207.81 381.05,196.63 417.77,217.13 454.49,212.47 491.21,300.06 527.93,386.35 564.65,424.92 601.37,381.13"/>
<polyline fill="none" stroke="#b9b9b9" stroke-width="1" points="50.57,322.42 87.29,288.88 124.01,254.40 160.73,300.99 197.45,378.33 234.17,398.83 270.89,385.79 307.61,384.86 344.33,366.22 381.05,345.72 417.77,333.61 454.49,312.17 491.21,295.40 527.93,308.45 564.65,256.27 601.37,273.04"/>
<polyline fill="none" stroke="#b9b9b9" stroke-width="1" points="50.57,316.83 87.29,270.24 124.01,242.29 160.73,262.79 197.45,336.40 234.17,369.01 270.89,327.62 307.61,370.41 344.33,313.11 381.05,242.29 417.77,246.02 454.49,203.15 491.21,211.54 527.93,207.81 564.65,183.12 601.37,213.40"/>
<polyline fill="none" stroke="#b9b9b9" stroke-width="1" points="50.57,316.83 87.29,274.90 124.01,245.09 160.73,277.70 197.45,361.56 234.17,383.92 270.89,350.09 307.61,349.45 344.33,357.83 381.05,340.13 417.77,343.39 454.49,271.18 491.21,255.33 527.93,273.97 564.65,321.96 601.37,301.92"/>
<polyline fill="none" stroke="#b9b9b9" stroke-width="1" points="50.57,310.31 87.29,260.93 124.01,239.49 160.73,257.66 197.45,329.88 234.17,342.92 270.89,313.11 307.61,343.86 344.33,341.06 381.05,331.74 417.77,273.97 454.49,235.77 491.21,232.04 527.93,220.86 564.65,198.96 601.37,177.06"/>
<polyline fill="none" stroke="#b9b9b9" stroke-width="1" points="50.57,330.81 87.29,307.05 124.01,268.38 160.73,304.72 197.45,383.27 234.17,416.07 270.89,413.74 307.61,315.90 344.33,261.86 381.05,268.38 417.77,227.38 454.49,216.20 491.21,277.70 527.93,289.35 564.65,265.12 601.37,335.47"/>
<polyline fill="none" stroke="#b9b9b9" stroke-width="1" points="50.57,325.22 87.29,299.13 124.01,254.40 160.73,293.54 197.45,372.74 234.17,407.22 270.89,407.50 307.61,285.15 344.33,277.98 381.05,278.63 417.77,298.20 454.49,300.06 491.21,332.67 527.93,300.06 564.65,288.88 601.37,283.29"/>
<polyline fill="none" stroke="#b9b9b9" stroke-width="1" points="50.57,328.02 87.29,307.05 124.01,268.38 160.73,308.63 197.45,388.86 234.17,410.95 270.89,366.22 307.61,266.52 344.33,243.22 381.05,235.77 417.77,224.59 454.49,187.78 491.21,221.79 527.93,183.59 564.65,170.54 601.37,144.45"/>
<polyline fill="none" stroke="#b9b9b9" stroke-width="1" points="50.57,319.63 87.29,284.22 124.01,247.88 160.73,277.70 197.45,361.56 234.17,388.58 270.89,319.63 307.61,263.72 344.33,243.22 381.05,268.38 417.77,241.36 454.49,235.77 491.21,249.28 527.93,289.35 564.65,180.33 601.37,168.21"/>
<polyline fill="none" stroke="#b9b9b9" stroke-width="1" points="50.57,316.83 87.29,270.24 124.01,242.29 160.73,267.45 197.45,343.86 234.17,383.92 270.89,342.92 307.61,297.27 344.33,257.20 381.05,282.36 417.77,265.58 454.49,307.98 491.21,240.43 527.93,220.86 564.65,227.38 601.37,230.18"/>
<polyline fill="none" stroke="#b9b9b9" stroke-width="1" points="50.57,319.63 87.29,274.90 124.01,242.29 160.73,267.45 197.45,350.38 234.17,383.92 270.89,360.84 307.61,301.92 344.33,315.90 381.05,321.03 417.77,292.61 454.49,320.56 491.21,261.86 527.93,242.29 564.65,256.27 601.37,269.31"/>
<polyline fill="none" stroke="#b9b9b9" stroke-width="1" points="50.57,322.42 87.29,284.22 124.01,247.88 160.73,282.36 197.45,367.15 234.17,393.24 270.89,355.47 307.61,278.63 344.33,199.43 381.05,209.68 417.77,224.59 454.49,232.04 491.21,192.90 527.93,211.54 564.65,232.97 601.37,216.20"/>
<polyline fill="none" stroke="#b9b9b9" stroke-width="1" points="50.57,325.22 87.29,299.13 124.01,261.48 160.73,293.54 197.45,372.74 234.17,393.24 270.89,348.30 307.61,305.65 344.33,327.08 381.05,273.04 417.77,232.97 454.49,240.43 491.21,217.13 527.93,232.97 564.65,212.94 601.37,209.68"/>
<polyline fill="none" stroke="#b9b9b9" stroke-width="1" points="50.57,322.42 87.29,294.47 124.01,261.48 160.73,300.99 197.45,378.33 234.17,393.24 270.89,359.05 307.61,280.49 344.33,315.90 381.05,263.72 417.77,252.91 454.49,266.52 491.21,292.61 527.93,259.99 564.65,303.79 601.37,313.11"/>
<polyline fill="none" stroke="#b9b9b9" stroke-width="1" points="50.57,314.04 87.29,265.58 124.01,242.29 160.73,267.45 197.45,350.38 234.17,383.92 270.89,323.62 307.61,244.15 344.33,295.40 381.05,299.13 417.77,284.22 454.49,325.22 491.21,273.97 527.93,237.63 564.65,278.63 601.37,297.27"/>
<polyline fill="none" stroke="#b9b9b9" stroke-width="1" points="50.57,328.02 87.29,302.86 124.01,268.38 160.73,300.99 197.45,378.33 234.17,398.83 270.89,362.64 307.61,299.13 344.33,331.74 381.05,330.81 417.77,308.45 454.49,325.22 491.21,316.83 527.93,278.63 564.65,330.81 601.37,322.80"/>
<polyline fill="none" stroke="#b9b9b9" stroke-width="1" points="50.57,319.63 87.29,279.56 124.01,245.09 160.73,272.39 197.45,343.86 234.17,374.61 270.89,346.51 307.61,330.81 344.33,323.36 381.05,307.05 417.77,232.97 454.49,226.45 491.21,217.13 527.93,190.57 564.65,212.94 601.37,188.25"/>
<polyline fill="none" stroke="#b9b9b9" stroke-width="1" points="50.57,316.83 87.29,274.90 124.01,247.88 160.73,282.36 197.45,367.15 234.17,393.24 270.89,333.61 307.61,250.02 344.33,319.63 381.05,289.81 417.77,284.22 454.49,258.13 491.21,287.02 527.93,278.63 564.65,298.20 601.37,258.13"/>
<polyline fill="none" stroke="#b9b9b9" stroke-width="1" points="50.57,319.63 87.29,279.56 124.01,245.09 160.73,277.70 197.45,361.56 234.17,388.58 270.89,321.63 307.61,238.56 344.33,252.54 381.05,312.64 417.77,258.60 454.49,266.52 491.21,266.52 527.93,242.29 564.65,232.97 601.37,232.97"/>
<polyline fill="none" stroke="#b9b9b9" stroke-width="1" points="50.57,319.63 87.29,279.56 124.01,245.09 160.73,267.45 197.45,343.86 234.17,374.61 270.89,364.43 307.61,328.02 344.33,323.36 381.05,320.00 417.77,276.77 454.49,283.29 491.21,252.54 527.93,284.22 564.65,278.63 601.37,251.61"/>
<polyline fill="none" stroke="#b9b9b9" stroke-width="1" points="50.57,319.63 87.29,279.56 124.01,245.09 160.73,272.39 197.45,357.83 234.17,388.58 270.89,351.88 307.61,302.39 344.33,213.40 381.05,222.72 417.77,246.02 454.49,258.13 491.21,277.70 527.93,259.99 564.65,227.38 601.37,226.45"/>
<polyline fill="none" stroke="#b9b9b9" stroke-width="1" points="50.57,322.42 87.29,288.88 124.01,247.88 160.73,282.36 197.45,367.15 234.17,390.45 270.89,357.26 307.61,314.04 344.33,287.02 381.05,278.63 417.77,235.77 454.49,219.93 491.21,214.34 527.93,218.99 564.65,243.22 601.37,221.79"/>
<polyline fill="none" stroke="#b9b9b9" stroke-width="1" points="50.57,322.42 87.29,294.47 124.01,250.68 160.73,282.36 197.45,361.56 234.17,388.58 270.89,331.61 307.61,273.97 344.33,233.90 381.05,251.61 417.77,258.60 454.49,271.18 491.21,306.58 527.93,325.22 564.65,306.58 601.37,263.72"/>
<polyline fill="none" stroke="#b9b9b9" stroke-width="1" points="50.57,310.31 87.29,260.93 124.01,239.49 160.73,257.66 197.45,329.88 234.17,369.01 270.89,329.61 307.61,260.93 344.33,264.65 381.05,222.72 417.77,209.68 454.49,203.15 491.21,192.90 527.93,197.56 564.65,189.18 601.37,182.65"/>
<polyline fill="none" stroke="#b9b9b9" stroke-width="1" points="50.57,314.04 87.29,270.24 124.01,239.49 160.73,262.79 197.45,336.40 234.17,361.56 270.89,286.55 307.61,239.49 344.33,226.45 381.05,252.54 417.77,273.97 454.49,232.04 491.21,232.04 527.93,246.95 564.65,270.24 601.37,246.95"/>
<polyline fill="none" stroke="#b9b9b9" stroke-width="1" points="50.57,314.04 87.29,265.58 124.01,239.49 160.73,262.79 197.45,336.40 234.17,361.56 270.89,325.62 307.61,241.36 344.33,213.40 381.05,232.04 417.77,219.93 454.49,200.36 491.21,219.93 527.93,229.24 564.65,252.54 601.37,289.81"/>
<circle cx="50.57" cy="310.31" r="2.6" fill="#a9a9a9"/>
<circle cx="50.57" cy="310.31" r="2.6" fill="#a9a9a9"/>
<circle cx="50.57" cy="314.04" r="2.6" fill="#a9a9a9"/>
<circle cx="50.57" cy="314.04" r="2.6" fill="#a9a9a9"/>
<circle cx="50.57" cy="314.04" r="2.6" fill="#a9a9a9"/>
<circle cx="50.57" cy="314.04" r="2.6" fill="#a9a9a9"/>
<circle cx="50.57" cy="316.83" r="2.6" fill="#a9a9a9"/>
<circle cx="50.57" cy="316.83" r="2.6" fill="#a9a9a9"/>
<circle cx="50.57" cy="316.83" r="2.6" fill="#a9a9a9"/>
<circle cx="50.57" cy="316.83" r="2.6" fill="#a9a9a9"/>
<circle cx="50.57" cy="316.83" r="2.6" fill="#a9a9a9"/>
<circle cx="50.57" cy="319.63" r="2.6" fill="#a9a9a9"/>
<circle cx="50.57" cy="319.63" r="2.6" fill="#a9a9a9"/>
<circle cx="50.57" cy="319.63" r="2.6" fill="#a9a9a9"/>
<circle cx="50.57" cy="319.63" r="2.6" fill="#a9a9a9"/>
<circle cx="50.57" cy="319.63" r="2.6" fill="#a9a9a9"/>
<circle cx="50.57" cy="319.63" r="2.6" fill="#a9a9a9"/>
<circle cx="50.57" cy="322.42" r="2.6" fill="#a9a9a9"/>
<circle cx="50.57" cy="322.42" r="2.6" fill="#a9a9a9"/>
<circle cx="50.57" cy="322.42" r="2.6" fill="#a9a9a9"/>
<circle cx="50.57" cy="322.42" r="2.6" fill="#a9a9a9"/>
<circle cx="50.57" cy="322.42" r="2.6" fill="#a9a9a9"/>
<circle cx="50.57" cy="325.22" r="2.6" fill="#a9a9a9"/>
<circle cx="50.57" cy="325.22" r="2.6" fill="#a9a9a9"/>
<circle cx="50.57" cy="325.22" r="2.6" fill="#a9a9a9"/>
<circle cx="50.57" cy="325.22" r="2.6" fill="#a9a9a9"/>
<circle cx="50.57" cy="328.02" r="2.6" fill="#a9a9a9"/>
<circle cx="50.57" cy="328.02" r="2.6" fill="#a9a9a9"/>
<circle cx="50.57" cy="328.02" r="2.6" fill="#a9a9a9"/>
<circle cx="50.57" cy="330.81" r="2.6" fill="#a9a9a9"/>
<circle cx="50.57" cy="330.81" r="2.6" fill="#a9a9a9"/>
<circle cx="87.29" cy="260.93" r="2.6" fill="#a9a9a9"/>
<circle cx="87.29" cy="260.93" r="2.6" fill="#a9a9a9"/>
<circle cx="87.29" cy="265.58" r="2.6" fill="#a9a9a9"/>
<circle cx="87.29" cy="265.58" r="2.6" fill="#a9a9a9"/>
<circle cx="87.29" cy="265.58" r="2.6" fill="#a9a9a9"/>
<circle cx="87.29" cy="270.24" r="2.6" fill="#a9a9a9"/>
<circle cx="87.29" cy="270.24" r="2.6" fill="#a9a9a9"/>
<circle cx="87.29" cy="270.24" r="2.6" fill="#a9a9a9"/>
<circle cx="87.29" cy="274.90" r="2.6" fill="#a9a9a9"/>
<circle cx="87.29" cy="274.90" r="2.6" fill="#a9a9a9"/>
<circle cx="87.29" cy="274.90" r="2.6" fill="#a9a9a9"/>
<circle cx="87.29" cy="274.90" r="2.6" fill="#a9a9a9"/>
<circle cx="87.29" cy="279.56" r="2.6" fill="#a9a9a9"/>
<circle cx="87.29" cy="279.56" r="2.6" fill="#a9a9a9"/>
<circle cx="87.29" cy="279.56" r="2.6" fill="#a9a9a9"/>
<circle cx="87.29" cy="279.56" r="2.6" fill="#a9a9a9"/>
<circle cx="87.29" cy="284.22" r="2.6" fill="#a9a9a9"/>
<circle cx="87.29" cy="284.22" r="2.6" fill="#a9a9a9"/>
<circle cx="87.29" cy="288.88" r="2.6" fill="#a9a9a9"/>
<circle cx="87.29" cy="288.88" r="2.6" fill="#a9a9a9"/>
<circle cx="87.29" cy="294.47" r="2.6" fill="#a9a9a9"/>
<circle cx="87.29" cy="294.47" r="2.6" fill="#a9a9a9"/>
<circle cx="87.29" cy="294.47" r="2.6" fill="#a9a9a9"/>
<circle cx="87.29" cy="299.13" r="2.6" fill="#a9a9a9"/>
<circle cx="87.29" cy="299.13" r="2.6" fill="#a9a9a9"/>
<circle cx="87.29" cy="299.13" r="2.6" fill="#a9a9a9"/>
<circle cx="87.29" cy="302.86" r="2.6" fill="#a9a9a9"/>
<circle cx="87.29" cy="302.86" r="2.6" fill="#a9a9a9"/>
<circle cx="87.29" cy="302.86" r="2.6" fill="#a9a9a9"/>
<circle cx="87.29" cy="307.05" r="2.6" fill="#a9a9a9"/>
<circle cx="87.29" cy="307.05" r="2.6" fill="#a9a9a9"/>
<circle cx="124.01" cy="231.57" r="2.6" fill="#a9a9a9"/>
<circle cx="124.01" cy="239.49" r="2.6" fill="#a9a9a9"/>
<circle cx="124.01" cy="239.49" r="2.6" fill="#a9a9a9"/>
<circle cx="124.01" cy="239.49" r="2.6" fill="#a9a9a9"/>
<circle cx="124.01" cy="239.49" r="2.6" fill="#a9a9a9"/>
<circle cx="124.01" cy="242.29" r="2.6" fill="#a9a9a9"/>
<circle cx="124.01" cy="242.29" r="2.6" fill="#a9a9a9"/>
<circle cx="124.01" cy="242.29" r="2.6" fill="#a9a9a9"/>
<circle cx="124.01" cy="242.29" r="2.6" fill="#a9a9a9"/>
<circle cx="124.01" cy="242.29" r="2.6" fill="#a9a9a9"/>
<circle cx="124.01" cy="245.09" r="2.6" fill="#a9a9a9"/>
<circle cx="124.01" cy="245.09" r="2.6" fill="#a9a9a9"/>
<circle cx="124.01" cy="245.09" r="2.6" fill="#a9a9a9"/>
<circle cx="124.01" cy="245.09" r="2.6" fill="#a9a9a9"/>
<circle cx="124.01" cy="245.09" r="2.6" fill="#a9a9a9"/>
<circle cx="124.01" cy="247.88" r="2.6" fill="#a9a9a9"/>
<circle cx="124.01" cy="247.88" r="2.6" fill="#a9a9a9"/>
<circle cx="124.01" cy="247.88" r="2.6" fill="#a9a9a9"/>
<circle cx="124.01" cy="247.88" r="2.6" fill="#a9a9a9"/>
<circle cx="124.01" cy="250.68" r="2.6" fill="#a9a9a9"/>
<circle cx="124.01" cy="250.68" r="2.6" fill="#a9a9a9"/>
<circle cx="124.01" cy="250.68" r="2.6" fill="#a9a9a9"/>
<circle cx="124.01" cy="254.40" r="2.6" fill="#a9a9a9"/>
<circle cx="124.01" cy="254.40" r="2.6" fill="#a9a9a9"/>
<circle cx="124.01" cy="261.48" r="2.6" fill="#a9a9a9"/>
<circle cx="124.01" cy="261.48" r="2.6" fill="#a9a9a9"/>
<circle cx="124.01" cy="261.48" r="2.6" fill="#a9a9a9"/>
<circle cx="124.01" cy="268.38" r="2.6" fill="#a9a9a9"/>
<circle cx="124.01" cy="268.38" r="2.6" fill="#a9a9a9"/>
<circle cx="124.01" cy="268.38" r="2.6" fill="#a9a9a9"/>
<circle cx="124.01" cy="268.38" r="2.6" fill="#a9a9a9"/>
<circle cx="160.73" cy="257.66" r="2.6" fill="#a9a9a9"/>
<circle cx="160.73" cy="257.66" r="2.6" fill="#a9a9a9"/>
<circle cx="160.73" cy="257.66" r="2.6" fill="#a9a9a9"/>
<circle cx="160.73" cy="262.79" r="2.6" fill="#a9a9a9"/>
<circle cx="160.73" cy="262.79" r="2.6" fill="#a9a9a9"/>
<circle cx="160.73" cy="262.79" r="2.6" fill="#a9a9a9"/>
<circle cx="160.73" cy="267.45" r="2.6" fill="#a9a9a9"/>
<circle cx="160.73" cy="267.45" r="2.6" fill="#a9a9a9"/>
<circle cx="160.73" cy="267.45" r="2.6" fill="#a9a9a9"/>
<circle cx="160.73" cy="267.45" r="2.6" fill="#a9a9a9"/>
<circle cx="160.73" cy="272.39" r="2.6" fill="#a9a9a9"/>
<circle cx="160.73" cy="272.39" r="2.6" fill="#a9a9a9"/>
<circle cx="160.73" cy="277.70" r="2.6" fill="#a9a9a9"/>
<circle cx="160.73" cy="277.70" r="2.6" fill="#a9a9a9"/>
<circle cx="160.73" cy="277.70" r="2.6" fill="#a9a9a9"/>
<circle cx="160.73" cy="282.36" r="2.6" fill="#a9a9a9"/>
<circle cx="160.73" cy="282.36" r="2.6" fill="#a9a9a9"/>
<circle cx="160.73" cy="282.36" r="2.6" fill="#a9a9a9"/>
<circle cx="160.73" cy="282.36" r="2.6" fill="#a9a9a9"/>
<circle cx="160.73" cy="287.95" r="2.6" fill="#a9a9a9"/>
<circle cx="160.73" cy="287.95" r="2.6" fill="#a9a9a9"/>
<circle cx="160.73" cy="287.95" r="2.6" fill="#a9a9a9"/>
<circle cx="160.73" cy="293.54" r="2.6" fill="#a9a9a9"/>
<circle cx="160.73" cy="293.54" r="2.6" fill="#a9a9a9"/>
<circle cx="160.73" cy="300.99" r="2.6" fill="#a9a9a9"/>
<circle cx="160.73" cy="300.99" r="2.6" fill="#a9a9a9"/>
<circle cx="160.73" cy="300.99" r="2.6" fill="#a9a9a9"/>
<circle cx="160.73" cy="304.72" r="2.6" fill="#a9a9a9"/>
<circle cx="160.73" cy="308.63" r="2.6" fill="#a9a9a9"/>
<circle cx="160.73" cy="308.63" r="2.6" fill="#a9a9a9"/>
<circle cx="160.73" cy="316.83" r="2.6" fill="#a9a9a9"/>
<circle cx="197.45" cy="311.24" r="2.6" fill="#a9a9a9"/>
<circle cx="197.45" cy="324.66" r="2.6" fill="#a9a9a9"/>
<circle cx="197.45" cy="329.88" r="2.6" fill="#a9a9a9"/>
<circle cx="197.45" cy="329.88" r="2.6" fill="#a9a9a9"/>
<circle cx="197.45" cy="336.40" r="2.6" fill="#a9a9a9"/>
<circle cx="197.45" cy="336.40" r="2.6" fill="#a9a9a9"/>
<circle cx="197.45" cy="336.40" r="2.6" fill="#a9a9a9"/>
<circle cx="197.45" cy="343.86" r="2.6" fill="#a9a9a9"/>
<circle cx="197.45" cy="343.86" r="2.6" fill="#a9a9a9"/>
<circle cx="197.45" cy="343.86" r="2.6" fill="#a9a9a9"/>
<circle cx="197.45" cy="350.38" r="2.6" fill="#a9a9a9"/>
<circle cx="197.45" cy="350.38" r="2.6" fill="#a9a9a9"/>
<circle cx="197.45" cy="357.83" r="2.6" fill="#a9a9a9"/>
<circle cx="197.45" cy="361.56" r="2.6" fill="#a9a9a9"/>
<circle cx="197.45" cy="361.56" r="2.6" fill="#a9a9a9"/>
<circle cx="197.45" cy="361.56" r="2.6" fill="#a9a9a9"/>
<circle cx="197.45" cy="361.56" r="2.6" fill="#a9a9a9"/>
<circle cx="197.45" cy="367.15" r="2.6" fill="#a9a9a9"/>
<circle cx="197.45" cy="367.15" r="2.6" fill="#a9a9a9"/>
<circle cx="197.45" cy="367.15" r="2.6" fill="#a9a9a9"/>
<circle cx="197.45" cy="367.15" r="2.6" fill="#a9a9a9"/>
<circle cx="197.45" cy="372.74" r="2.6" fill="#a9a9a9"/>
<circle cx="197.45" cy="372.74" r="2.6" fill="#a9a9a9"/>
<circle cx="197.45" cy="372.74" r="2.6" fill="#a9a9a9"/>
<circle cx="197.45" cy="372.74" r="2.6" fill="#a9a9a9"/>
<circle cx="197.45" cy="378.33" r="2.6" fill="#a9a9a9"/>
<circle cx="197.45" cy="378.33" r="2.6" fill="#a9a9a9"/>
<circle cx="197.45" cy="378.33" r="2.6" fill="#a9a9a9"/>
<circle cx="197.45" cy="383.27" r="2.6" fill="#a9a9a9"/>
<circle cx="197.45" cy="383.27" r="2.6" fill="#a9a9a9"/>
<circle cx="197.45" cy="388.86" r="2.6" fill="#a9a9a9"/>
<circle cx="234.17" cy="292.61" r="2.6" fill="#a9a9a9"/>
<circle cx="234.17" cy="342.92" r="2.6" fill="#a9a9a9"/>
<circle cx="234.17" cy="352.24" r="2.6" fill="#a9a9a9"/>
<circle cx="234.17" cy="361.56" r="2.6" fill="#a9a9a9"/>
<circle cx="234.17" cy="361.56" r="2.6" fill="#a9a9a9"/>
<circle cx="234.17" cy="369.01" r="2.6" fill="#a9a9a9"/>
<circle cx="234.17" cy="369.01" r="2.6" fill="#a9a9a9"/>
<circle cx="234.17" cy="374.61" r="2.6" fill="#a9a9a9"/>
<circle cx="234.17" cy="374.61" r="2.6" fill="#a9a9a9"/>
<circle cx="234.17" cy="383.92" r="2.6" fill="#a9a9a9"/>
<circle cx="234.17" cy="383.92" r="2.6" fill="#a9a9a9"/>
<circle cx="234.17" cy="383.92" r="2.6" fill="#a9a9a9"/>
<circle cx="234.17" cy="383.92" r="2.6" fill="#a9a9a9"/>
<circle cx="234.17" cy="388.58" r="2.6" fill="#a9a9a9"/>
<circle cx="234.17" cy="388.58" r="2.6" fill="#a9a9a9"/>
<circle cx="234.17" cy="388.58" r="2.6" fill="#a9a9a9"/>
<circle cx="234.17" cy="388.58" r="2.6" fill="#a9a9a9"/>
<circle cx="234.17" cy="390.45" r="2.6" fill="#a9a9a9"/>
<circle cx="234.17" cy="393.24" r="2.6" fill="#a9a9a9"/>
<circle cx="234.17" cy="393.24" r="2.6" fill="#a9a9a9"/>
<circle cx="234.17" cy="393.24" r="2.6" fill="#a9a9a9"/>
<circle cx="234.17" cy="393.24" r="2.6" fill="#a9a9a9"/>
<circle cx="234.17" cy="393.24" r="2.6" fill="#a9a9a9"/>
<circle cx="234.17" cy="398.83" r="2.6" fill="#a9a9a9"/>
<circle cx="234.17" cy="398.83" r="2.6" fill="#a9a9a9"/>
<circle cx="234.17" cy="398.83" r="2.6" fill="#a9a9a9"/>
<circle cx="234.17" cy="398.83" r="2.6" fill="#a9a9a9"/>
<circle cx="234.17" cy="407.22" r="2.6" fill="#a9a9a9"/>
<circle cx="234.17" cy="407.22" r="2.6" fill="#a9a9a9"/>
<circle cx="234.17" cy="410.95" r="2.6" fill="#a9a9a9"/>
<circle cx="234.17" cy="416.07" r="2.6" fill="#a9a9a9"/>
<circle cx="270.89" cy="213.40" r="2.6" fill="#a9a9a9"/>
<circle cx="270.89" cy="271.18" r="2.6" fill="#a9a9a9"/>
<circle cx="270.89" cy="286.55" r="2.6" fill="#a9a9a9"/>
<circle cx="270.89" cy="298.20" r="2.6" fill="#a9a9a9"/>
<circle cx="270.89" cy="313.11" r="2.6" fill="#a9a9a9"/>
<circle cx="270.89" cy="319.63" r="2.6" fill="#a9a9a9"/>
<circle cx="270.89" cy="321.63" r="2.6" fill="#a9a9a9"/>
<circle cx="270.89" cy="323.62" r="2.6" fill="#a9a9a9"/>
<circle cx="270.89" cy="325.62" r="2.6" fill="#a9a9a9"/>
<circle cx="270.89" cy="327.62" r="2.6" fill="#a9a9a9"/>
<circle cx="270.89" cy="329.61" r="2.6" fill="#a9a9a9"/>
<circle cx="270.89" cy="331.61" r="2.6" fill="#a9a9a9"/>
<circle cx="270.89" cy="333.61" r="2.6" fill="#a9a9a9"/>
<circle cx="270.89" cy="342.92" r="2.6" fill="#a9a9a9"/>
<circle cx="270.89" cy="344.72" r="2.6" fill="#a9a9a9"/>
<circle cx="270.89" cy="346.51" r="2.6" fill="#a9a9a9"/>
<circle cx="270.89" cy="348.30" r="2.6" fill="#a9a9a9"/>
<circle cx="270.89" cy="350.09" r="2.6" fill="#a9a9a9"/>
<circle cx="270.89" cy="351.88" r="2.6" fill="#a9a9a9"/>
<circle cx="270.89" cy="353.68" r="2.6" fill="#a9a9a9"/>
<circle cx="270.89" cy="355.47" r="2.6" fill="#a9a9a9"/>
<circle cx="270.89" cy="357.26" r="2.6" fill="#a9a9a9"/>
<circle cx="270.89" cy="359.05" r="2.6" fill="#a9a9a9"/>
<circle cx="270.89" cy="360.84" r="2.6" fill="#a9a9a9"/>
<circle cx="270.89" cy="362.64" r="2.6" fill="#a9a9a9"/>
<circle cx="270.89" cy="364.43" r="2.6" fill="#a9a9a9"/>
<circle cx="270.89" cy="366.22" r="2.6" fill="#a9a9a9"/>
<circle cx="270.89" cy="381.41" r="2.6" fill="#a9a9a9"/>
<circle cx="270.89" cy="385.79" r="2.6" fill="#a9a9a9"/>
<circle cx="270.89" cy="407.50" r="2.6" fill="#a9a9a9"/>
<circle cx="270.89" cy="413.74" r="2.6" fill="#a9a9a9"/>
<circle cx="307.61" cy="188.25" r="2.6" fill="#a9a9a9"/>
<circle cx="307.61" cy="204.09" r="2.6" fill="#a9a9a9"/>
<circle cx="307.61" cy="235.77" r="2.6" fill="#a9a9a9"/>
<circle cx="307.61" cy="238.56" r="2.6" fill="#a9a9a9"/>
<circle cx="307.61" cy="239.49" r="2.6" fill="#a9a9a9"/>
<circle cx="307.61" cy="241.36" r="2.6" fill="#a9a9a9"/>
<circle cx="307.61" cy="244.15" r="2.6" fill="#a9a9a9"/>
<circle cx="307.61" cy="250.02" r="2.6" fill="#a9a9a9"/>
<circle cx="307.61" cy="260.93" r="2.6" fill="#a9a9a9"/>
<circle cx="307.61" cy="263.72" r="2.6" fill="#a9a9a9"/>
<circle cx="307.61" cy="263.72" r="2.6" fill="#a9a9a9"/>
<circle cx="307.61" cy="266.52" r="2.6" fill="#a9a9a9"/>
<circle cx="307.61" cy="273.97" r="2.6" fill="#a9a9a9"/>
<circle cx="307.61" cy="278.63" r="2.6" fill="#a9a9a9"/>
<circle cx="307.61" cy="280.49" r="2.6" fill="#a9a9a9"/>
<circle cx="307.61" cy="285.15" r="2.6" fill="#a9a9a9"/>
<circle cx="307.61" cy="289.81" r="2.6" fill="#a9a9a9"/>
<circle cx="307.61" cy="297.27" r="2.6" fill="#a9a9a9"/>
<circle cx="307.61" cy="299.13" r="2.6" fill="#a9a9a9"/>
<circle cx="307.61" cy="301.92" r="2.6" fill="#a9a9a9"/>
<circle cx="307.61" cy="302.39" r="2.6" fill="#a9a9a9"/>
<circle cx="307.61" cy="305.65" r="2.6" fill="#a9a9a9"/>
<circle cx="307.61" cy="314.04" r="2.6" fill="#a9a9a9"/>
<circle cx="307.61" cy="315.90" r="2.6" fill="#a9a9a9"/>
<circle cx="307.61" cy="325.22" r="2.6" fill="#a9a9a9"/>
<circle cx="307.61" cy="328.02" r="2.6" fill="#a9a9a9"/>
<circle cx="307.61" cy="330.81" r="2.6" fill="#a9a9a9"/>
<circle cx="307.61" cy="343.86" r="2.6" fill="#a9a9a9"/>
<circle cx="307.61" cy="349.45" r="2.6" fill="#a9a9a9"/>
<circle cx="307.61" cy="370.41" r="2.6" fill="#a9a9a9"/>
<circle cx="307.61" cy="384.86" r="2.6" fill="#a9a9a9"/>
<circle cx="344.33" cy="182.19" r="2.6" fill="#a9a9a9"/>
<circle cx="344.33" cy="196.17" r="2.6" fill="#a9a9a9"/>
<circle cx="344.33" cy="199.43" r="2.6" fill="#a9a9a9"/>
<circle cx="344.33" cy="207.81" r="2.6" fill="#a9a9a9"/>
<circle cx="344.33" cy="213.40" r="2.6" fill="#a9a9a9"/>
<circle cx="344.33" cy="213.40" r="2.6" fill="#a9a9a9"/>
<circle cx="344.33" cy="218.99" r="2.6" fill="#a9a9a9"/>
<circle cx="344.33" cy="226.45" r="2.6" fill="#a9a9a9"/>
<circle cx="344.33" cy="233.90" r="2.6" fill="#a9a9a9"/>
<circle cx="344.33" cy="243.22" r="2.6" fill="#a9a9a9"/>
<circle cx="344.33" cy="243.22" r="2.6" fill="#a9a9a9"/>
<circle cx="344.33" cy="247.88" r="2.6" fill="#a9a9a9"/>
<circle cx="344.33" cy="252.54" r="2.6" fill="#a9a9a9"/>
<circle cx="344.33" cy="257.20" r="2.6" fill="#a9a9a9"/>
<circle cx="344.33" cy="257.20" r="2.6" fill="#a9a9a9"/>
<circle cx="344.33" cy="261.86" r="2.6" fill="#a9a9a9"/>
<circle cx="344.33" cy="264.65" r="2.6" fill="#a9a9a9"/>
<circle cx="344.33" cy="277.98" r="2.6" fill="#a9a9a9"/>
<circle cx="344.33" cy="287.02" r="2.6" fill="#a9a9a9"/>
<circle cx="344.33" cy="295.40" r="2.6" fill="#a9a9a9"/>
<circle cx="344.33" cy="313.11" r="2.6" fill="#a9a9a9"/>
<circle cx="344.33" cy="315.90" r="2.6" fill="#a9a9a9"/>
<circle cx="344.33" cy="315.90" r="2.6" fill="#a9a9a9"/>
<circle cx="344.33" cy="319.63" r="2.6" fill="#a9a9a9"/>
<circle cx="344.33" cy="323.36" r="2.6" fill="#a9a9a9"/>
<circle cx="344.33" cy="323.36" r="2.6" fill="#a9a9a9"/>
<circle cx="344.33" cy="327.08" r="2.6" fill="#a9a9a9"/>
<circle cx="344.33" cy="331.74" r="2.6" fill="#a9a9a9"/>
<circle cx="344.33" cy="341.06" r="2.6" fill="#a9a9a9"/>
<circle cx="344.33" cy="357.83" r="2.6" fill="#a9a9a9"/>
<circle cx="344.33" cy="366.22" r="2.6" fill="#a9a9a9"/>
<circle cx="381.05" cy="176.13" r="2.6" fill="#a9a9a9"/>
<circle cx="381.05" cy="196.63" r="2.6" fill="#a9a9a9"/>
<circle cx="381.05" cy="199.43" r="2.6" fill="#a9a9a9"/>
<circle cx="381.05" cy="209.68" r="2.6" fill="#a9a9a9"/>
<circle cx="381.05" cy="218.06" r="2.6" fill="#a9a9a9"/>
<circle cx="381.05" cy="222.72" r="2.6" fill="#a9a9a9"/>
<circle cx="381.05" cy="222.72" r="2.6" fill="#a9a9a9"/>
<circle cx="381.05" cy="227.38" r="2.6" fill="#a9a9a9"/>
<circle cx="381.05" cy="232.04" r="2.6" fill="#a9a9a9"/>
<circle cx="381.05" cy="235.77" r="2.6" fill="#a9a9a9"/>
<circle cx="381.05" cy="235.77" r="2.6" fill="#a9a9a9"/>
<circle cx="381.05" cy="242.29" r="2.6" fill="#a9a9a9"/>
<circle cx="381.05" cy="251.61" r="2.6" fill="#a9a9a9"/>
<circle cx="381.05" cy="252.54" r="2.6" fill="#a9a9a9"/>
<circle cx="381.05" cy="263.72" r="2.6" fill="#a9a9a9"/>
<circle cx="381.05" cy="268.38" r="2.6" fill="#a9a9a9"/>
<circle cx="381.05" cy="268.38" r="2.6" fill="#a9a9a9"/>
<circle cx="381.05" cy="273.04" r="2.6" fill="#a9a9a9"/>
<circle cx="381.05" cy="278.63" r="2.6" fill="#a9a9a9"/>
<circle cx="381.05" cy="278.63" r="2.6" fill="#a9a9a9"/>
<circle cx="381.05" cy="282.36" r="2.6" fill="#a9a9a9"/>
<circle cx="381.05" cy="289.81" r="2.6" fill="#a9a9a9"/>
<circle cx="381.05" cy="299.13" r="2.6" fill="#a9a9a9"/>
<circle cx="381.05" cy="307.05" r="2.6" fill="#a9a9a9"/>
<circle cx="381.05" cy="312.64" r="2.6" fill="#a9a9a9"/>
<circle cx="381.05" cy="320.00" r="2.6" fill="#a9a9a9"/>
<circle cx="381.05" cy="321.03" r="2.6" fill="#a9a9a9"/>
<circle cx="381.05" cy="330.81" r="2.6" fill="#a9a9a9"/>
<circle cx="381.05" cy="331.74" r="2.6" fill="#a9a9a9"/>
<circle cx="381.05" cy="340.13" r="2.6" fill="#a9a9a9"/>
<circle cx="381.05" cy="345.72" r="2.6" fill="#a9a9a9"/>
<circle cx="417.77" cy="184.52" r="2.6" fill="#a9a9a9"/>
<circle cx="417.77" cy="209.68" r="2.6" fill="#a9a9a9"/>
<circle cx="417.77" cy="217.13" r="2.6" fill="#a9a9a9"/>
<circle cx="417.77" cy="219.93" r="2.6" fill="#a9a9a9"/>
<circle cx="417.77" cy="219.93" r="2.6" fill="#a9a9a9"/>
<circle cx="417.77" cy="224.59" r="2.6" fill="#a9a9a9"/>
<circle cx="417.77" cy="224.59" r="2.6" fill="#a9a9a9"/>
<circle cx="417.77" cy="227.38" r="2.6" fill="#a9a9a9"/>
<circle cx="417.77" cy="230.18" r="2.6" fill="#a9a9a9"/>
<circle cx="417.77" cy="230.18" r="2.6" fill="#a9a9a9"/>
<circle cx="417.77" cy="232.97" r="2.6" fill="#a9a9a9"/>
<circle cx="417.77" cy="232.97" r="2.6" fill="#a9a9a9"/>
<circle cx="417.77" cy="235.77" r="2.6" fill="#a9a9a9"/>
<circle cx="417.77" cy="241.36" r="2.6" fill="#a9a9a9"/>
<circle cx="417.77" cy="241.36" r="2.6" fill="#a9a9a9"/>
<circle cx="417.77" cy="246.02" r="2.6" fill="#a9a9a9"/>
<circle cx="417.77" cy="246.02" r="2.6" fill="#a9a9a9"/>
<circle cx="417.77" cy="252.91" r="2.6" fill="#a9a9a9"/>
<circle cx="417.77" cy="258.60" r="2.6" fill="#a9a9a9"/>
<circle cx="417.77" cy="258.60" r="2.6" fill="#a9a9a9"/>
<circle cx="417.77" cy="265.58" r="2.6" fill="#a9a9a9"/>
<circle cx="417.77" cy="273.97" r="2.6" fill="#a9a9a9"/>
<circle cx="417.77" cy="273.97" r="2.6" fill="#a9a9a9"/>
<circle cx="417.77" cy="276.77" r="2.6" fill="#a9a9a9"/>
<circle cx="417.77" cy="284.22" r="2.6" fill="#a9a9a9"/>
<circle cx="417.77" cy="284.22" r="2.6" fill="#a9a9a9"/>
<circle cx="417.77" cy="292.61" r="2.6" fill="#a9a9a9"/>
<circle cx="417.77" cy="298.20" r="2.6" fill="#a9a9a9"/>
<circle cx="417.77" cy="308.45" r="2.6" fill="#a9a9a9"/>
<circle cx="417.77" cy="333.61" r="2.6" fill="#a9a9a9"/>
<circle cx="417.77" cy="343.39" r="2.6" fill="#a9a9a9"/>
<circle cx="454.49" cy="181.72" r="2.6" fill="#a9a9a9"/>
<circle cx="454.49" cy="187.78" r="2.6" fill="#a9a9a9"/>
<circle cx="454.49" cy="200.36" r="2.6" fill="#a9a9a9"/>
<circle cx="454.49" cy="203.15" r="2.6" fill="#a9a9a9"/>
<circle cx="454.49" cy="203.15" r="2.6" fill="#a9a9a9"/>
<circle cx="454.49" cy="205.95" r="2.6" fill="#a9a9a9"/>
<circle cx="454.49" cy="212.47" r="2.6" fill="#a9a9a9"/>
<circle cx="454.49" cy="212.47" r="2.6" fill="#a9a9a9"/>
<circle cx="454.49" cy="216.20" r="2.6" fill="#a9a9a9"/>
<circle cx="454.49" cy="216.20" r="2.6" fill="#a9a9a9"/>
<circle cx="454.49" cy="219.93" r="2.6" fill="#a9a9a9"/>
<circle cx="454.49" cy="226.45" r="2.6" fill="#a9a9a9"/>
<circle cx="454.49" cy="232.04" r="2.6" fill="#a9a9a9"/>
<circle cx="454.49" cy="232.04" r="2.6" fill="#a9a9a9"/>
<circle cx="454.49" cy="235.77" r="2.6" fill="#a9a9a9"/>
<circle cx="454.49" cy="235.77" r="2.6" fill="#a9a9a9"/>
<circle cx="454.49" cy="240.43" r="2.6" fill="#a9a9a9"/>
<circle cx="454.49" cy="240.43" r="2.6" fill="#a9a9a9"/>
<circle cx="454.49" cy="258.13" r="2.6" fill="#a9a9a9"/>
<circle cx="454.49" cy="258.13" r="2.6" fill="#a9a9a9"/>
<circle cx="454.49" cy="266.52" r="2.6" fill="#a9a9a9"/>
<circle cx="454.49" cy="266.52" r="2.6" fill="#a9a9a9"/>
<circle cx="454.49" cy="271.18" r="2.6" fill="#a9a9a9"/>
<circle cx="454.49" cy="271.18" r="2.6" fill="#a9a9a9"/>
<circle cx="454.49" cy="283.29" r="2.6" fill="#a9a9a9"/>
<circle cx="454.49" cy="300.06" r="2.6" fill="#a9a9a9"/>
<circle cx="454.49" cy="307.98" r="2.6" fill="#a9a9a9"/>
<circle cx="454.49" cy="312.17" r="2.6" fill="#a9a9a9"/>
<circle cx="454.49" cy="320.56" r="2.6" fill="#a9a9a9"/>
<circle cx="454.49" cy="325.22" r="2.6" fill="#a9a9a9"/>
<circle cx="454.49" cy="325.22" r="2.6" fill="#a9a9a9"/>
<circle cx="491.21" cy="160.76" r="2.6" fill="#a9a9a9"/>
<circle cx="491.21" cy="192.90" r="2.6" fill="#a9a9a9"/>
<circle cx="491.21" cy="192.90" r="2.6" fill="#a9a9a9"/>
<circle cx="491.21" cy="197.56" r="2.6" fill="#a9a9a9"/>
<circle cx="491.21" cy="205.95" r="2.6" fill="#a9a9a9"/>
<circle cx="491.21" cy="211.54" r="2.6" fill="#a9a9a9"/>
<circle cx="491.21" cy="214.34" r="2.6" fill="#a9a9a9"/>
<circle cx="491.21" cy="217.13" r="2.6" fill="#a9a9a9"/>
<circle cx="491.21" cy="217.13" r="2.6" fill="#a9a9a9"/>
<circle cx="491.21" cy="219.93" r="2.6" fill="#a9a9a9"/>
<circle cx="491.21" cy="221.79" r="2.6" fill="#a9a9a9"/>
<circle cx="491.21" cy="221.79" r="2.6" fill="#a9a9a9"/>
<circle cx="491.21" cy="232.04" r="2.6" fill="#a9a9a9"/>
<circle cx="491.21" cy="232.04" r="2.6" fill="#a9a9a9"/>
<circle cx="491.21" cy="240.43" r="2.6" fill="#a9a9a9"/>
<circle cx="491.21" cy="249.28" r="2.6" fill="#a9a9a9"/>
<circle cx="491.21" cy="249.28" r="2.6" fill="#a9a9a9"/>
<circle cx="491.21" cy="252.54" r="2.6" fill="#a9a9a9"/>
<circle cx="491.21" cy="255.33" r="2.6" fill="#a9a9a9"/>
<circle cx="491.21" cy="261.86" r="2.6" fill="#a9a9a9"/>
<circle cx="491.21" cy="266.52" r="2.6" fill="#a9a9a9"/>
<circle cx="491.21" cy="273.97" r="2.6" fill="#a9a9a9"/>
<circle cx="491.21" cy="277.70" r="2.6" fill="#a9a9a9"/>
<circle cx="491.21" cy="277.70" r="2.6" fill="#a9a9a9"/>
<circle cx="491.21" cy="287.02" r="2.6" fill="#a9a9a9"/>
<circle cx="491.21" cy="292.61" r="2.6" fill="#a9a9a9"/>
<circle cx="491.21" cy="295.40" r="2.6" fill="#a9a9a9"/>
<circle cx="491.21" cy="300.06" r="2.6" fill="#a9a9a9"/>
<circle cx="491.21" cy="306.58" r="2.6" fill="#a9a9a9"/>
<circle cx="491.21" cy="316.83" r="2.6" fill="#a9a9a9"/>
<circle cx="491.21" cy="332.67" r="2.6" fill="#a9a9a9"/>
<circle cx="527.93" cy="177.53" r="2.6" fill="#a9a9a9"/>
<circle cx="527.93" cy="183.59" r="2.6" fill="#a9a9a9"/>
<circle cx="527.93" cy="190.57" r="2.6" fill="#a9a9a9"/>
<circle cx="527.93" cy="197.56" r="2.6" fill="#a9a9a9"/>
<circle cx="527.93" cy="207.81" r="2.6" fill="#a9a9a9"/>
<circle cx="527.93" cy="207.81" r="2.6" fill="#a9a9a9"/>
<circle cx="527.93" cy="211.54" r="2.6" fill="#a9a9a9"/>
<circle cx="527.93" cy="211.54" r="2.6" fill="#a9a9a9"/>
<circle cx="527.93" cy="218.99" r="2.6" fill="#a9a9a9"/>
<circle cx="527.93" cy="220.86" r="2.6" fill="#a9a9a9"/>
<circle cx="527.93" cy="220.86" r="2.6" fill="#a9a9a9"/>
<circle cx="527.93" cy="229.24" r="2.6" fill="#a9a9a9"/>
<circle cx="527.93" cy="229.24" r="2.6" fill="#a9a9a9"/>
<circle cx="527.93" cy="232.97" r="2.6" fill="#a9a9a9"/>
<circle cx="527.93" cy="237.63" r="2.6" fill="#a9a9a9"/>
<circle cx="527.93" cy="237.63" r="2.6" fill="#a9a9a9"/>
<circle cx="527.93" cy="242.29" r="2.6" fill="#a9a9a9"/>
<circle cx="527.93" cy="242.29" r="2.6" fill="#a9a9a9"/>
<circle cx="527.93" cy="246.95" r="2.6" fill="#a9a9a9"/>
<circle cx="527.93" cy="259.99" r="2.6" fill="#a9a9a9"/>
<circle cx="527.93" cy="259.99" r="2.6" fill="#a9a9a9"/>
<circle cx="527.93" cy="273.97" r="2.6" fill="#a9a9a9"/>
<circle cx="527.93" cy="278.63" r="2.6" fill="#a9a9a9"/>
<circle cx="527.93" cy="278.63" r="2.6" fill="#a9a9a9"/>
<circle cx="527.93" cy="284.22" r="2.6" fill="#a9a9a9"/>
<circle cx="527.93" cy="289.35" r="2.6" fill="#a9a9a9"/>
<circle cx="527.93" cy="289.35" r="2.6" fill="#a9a9a9"/>
<circle cx="527.93" cy="300.06" r="2.6" fill="#a9a9a9"/>
<circle cx="527.93" cy="308.45" r="2.6" fill="#a9a9a9"/>
<circle cx="527.93" cy="325.22" r="2.6" fill="#a9a9a9"/>
<circle cx="527.93" cy="386.35" r="2.6" fill="#a9a9a9"/>
<circle cx="564.65" cy="166.16" r="2.6" fill="#a9a9a9"/>
<circle cx="564.65" cy="170.54" r="2.6" fill="#a9a9a9"/>
<circle cx="564.65" cy="180.33" r="2.6" fill="#a9a9a9"/>
<circle cx="564.65" cy="183.12" r="2.6" fill="#a9a9a9"/>
<circle cx="564.65" cy="183.12" r="2.6" fill="#a9a9a9"/>
<circle cx="564.65" cy="189.18" r="2.6" fill="#a9a9a9"/>
<circle cx="564.65" cy="198.96" r="2.6" fill="#a9a9a9"/>
<circle cx="564.65" cy="212.94" r="2.6" fill="#a9a9a9"/>
<circle cx="564.65" cy="212.94" r="2.6" fill="#a9a9a9"/>
<circle cx="564.65" cy="217.13" r="2.6" fill="#a9a9a9"/>
<circle cx="564.65" cy="217.13" r="2.6" fill="#a9a9a9"/>
<circle cx="564.65" cy="227.38" r="2.6" fill="#a9a9a9"/>
<circle cx="564.65" cy="227.38" r="2.6" fill="#a9a9a9"/>
<circle cx="564.65" cy="232.97" r="2.6" fill="#a9a9a9"/>
<circle cx="564.65" cy="232.97" r="2.6" fill="#a9a9a9"/>
<circle cx="564.65" cy="243.22" r="2.6" fill="#a9a9a9"/>
<circle cx="564.65" cy="243.22" r="2.6" fill="#a9a9a9"/>
<circle cx="564.65" cy="252.54" r="2.6" fill="#a9a9a9"/>
<circle cx="564.65" cy="256.27" r="2.6" fill="#a9a9a9"/>
<circle cx="564.65" cy="256.27" r="2.6" fill="#a9a9a9"/>
<circle cx="564.65" cy="265.12" r="2.6" fill="#a9a9a9"/>
<circle cx="564.65" cy="270.24" r="2.6" fill="#a9a9a9"/>
<circle cx="564.65" cy="278.63" r="2.6" fill="#a9a9a9"/>
<circle cx="564.65" cy="278.63" r="2.6" fill="#a9a9a9"/>
<circle cx="564.65" cy="288.88" r="2.6" fill="#a9a9a9"/>
<circle cx="564.65" cy="298.20" r="2.6" fill="#a9a9a9"/>
<circle cx="564.65" cy="303.79" r="2.6" fill="#a9a9a9"/>
<circle cx="564.65" cy="306.58" r="2.6" fill="#a9a9a9"/>
<circle cx="564.65" cy="321.96" r="2.6" fill="#a9a9a9"/>
<circle cx="564.65" cy="330.81" r="2.6" fill="#a9a9a9"/>
<circle cx="564.65" cy="424.92" r="2.6" fill="#a9a9a9"/>
<circle cx="601.37" cy="144.45" r="2.6" fill="#a9a9a9"/>
<circle cx="601.37" cy="162.15" r="2.6" fill="#a9a9a9"/>
<circle cx="601.37" cy="168.21" r="2.6" fill="#a9a9a9"/>
<circle cx="601.37" cy="177.06" r="2.6" fill="#a9a9a9"/>
<circle cx="601.37" cy="182.65" r="2.6" fill="#a9a9a9"/>
<circle cx="601.37" cy="188.25" r="2.6" fill="#a9a9a9"/>
<circle cx="601.37" cy="191.97" r="2.6" fill="#a9a9a9"/>
<circle cx="601.37" cy="200.36" r="2.6" fill="#a9a9a9"/>
<circle cx="601.37" cy="205.02" r="2.6" fill="#a9a9a9"/>
<circle cx="601.37" cy="209.68" r="2.6" fill="#a9a9a9"/>
<circle cx="601.37" cy="213.40" r="2.6" fill="#a9a9a9"/>
<circle cx="601.37" cy="216.20" r="2.6" fill="#a9a9a9"/>
<circle cx="601.37" cy="221.79" r="2.6" fill="#a9a9a9"/>
<circle cx="601.37" cy="226.45" r="2.6" fill="#a9a9a9"/>
<circle cx="601.37" cy="230.18" r="2.6" fill="#a9a9a9"/>
<circle cx="601.37" cy="232.97" r="2.6" fill="#a9a9a9"/>
<circle cx="601.37" cy="239.03" r="2.6" fill="#a9a9a9"/>
<circle cx="601.37" cy="246.95" r="2.6" fill="#a9a9a9"/>
<circle cx="601.37" cy="251.61" r="2.6" fill="#a9a9a9"/>
<circle cx="601.37" cy="258.13" r="2.6" fill="#a9a9a9"/>
<circle cx="601.37" cy="263.72" r="2.6" fill="#a9a9a9"/>
<circle cx="601.37" cy="269.31" r="2.6" fill="#a9a9a9"/>
<circle cx="601.37" cy="273.04" r="2.6" fill="#a9a9a9"/>
<circle cx="601.37" cy="283.29" r="2.6" fill="#a9a9a9"/>
<circle cx="601.37" cy="289.81" r="2.6" fill="#a9a9a9"/>
<circle cx="601.37" cy="297.27" r="2.6" fill="#a9a9a9"/>
<circle cx="601.37" cy="301.92" r="2.6" fill="#a9a9a9"/>
<circle cx="601.37" cy="313.11" r="2.6" fill="#a9a9a9"/>
<circle cx="601.37" cy="322.80" r="2.6" fill="#a9a9a9"/>
<circle cx="601.37" cy="335.47" r="2.6" fill="#a9a9a9"/>
<circle cx="601.37" cy="381.13" r="2.6" fill="#a9a9a9"/>
<polyline fill="none" stroke="#1a30f0" stroke-width="2.5" points="50.57,268.31 61.59,269.35 72.60,270.39 83.62,271.44 94.63,272.49 105.65,273.55 116.67,274.61 127.68,275.68 138.70,276.76 149.71,277.84 160.73,278.93 171.75,280.02 182.76,281.12 193.78,282.23 204.79,283.34 215.81,284.46 226.83,285.58 237.84,286.71 248.86,287.84 259.87,288.98 270.89,290.13 281.91,291.28 292.92,292.44 303.94,293.60 314.95,294.77 325.97,295.95 336.99,297.13 348.00,298.32 359.02,299.51 370.03,300.71 381.05,301.91 392.07,303.12 403.08,304.34 414.10,305.56 425.11,306.79 436.13,308.03 447.15,309.26 458.16,310.51 469.18,311.76 480.19,313.02 491.21,314.28 502.23,315.55 513.24,316.83 524.26,318.11 535.27,319.39 546.29,320.68 557.31,321.98 568.32,323.29 579.34,324.60 590.35,325.91 601.37,327.23"/>
<polyline fill="none" stroke="#000" stroke-width="1.0" points="50.57,320.56 87.29,279.28 124.01,253.94 160.73,286.27 197.45,355.50 234.17,380.38 270.89,339.94 307.61,293.54 344.33,272.39 381.05,259.06 417.77,250.02 454.49,243.69 491.21,244.81 527.93,250.68 564.65,247.60 601.37,241.36"/>
<circle cx="50.57" cy="320.56" r="2.25" fill="#000"/>
<circle cx="87.29" cy="279.28" r="2.25" fill="#000"/>
<circle cx="124.01" cy="253.94" r="2.25" fill="#000"/>
<circle cx="160.73" cy="286.27" r="2.25" fill="#000"/>
<circle cx="197.45" cy="355.50" r="2.25" fill="#000"/>
<circle cx="234.17" cy="380.38" r="2.25" fill="#000"/>
<circle cx="270.89" cy="339.94" r="2.25" fill="#000"/>
<circle cx="307.61" cy="293.54" r="2.25" fill="#000"/>
<circle cx="344.33" cy="272.39" r="2.25" fill="#000"/>
<circle cx="381.05" cy="259.06" r="2.25" fill="#000"/>
<circle cx="417.77" cy="250.02" r="2.25" fill="#000"/>
<circle cx="454.49" cy="243.69" r="2.25" fill="#000"/>
<circle cx="491.21" cy="244.81" r="2.25" fill="#000"/>
<circle cx="527.93" cy="250.68" r="2.25" fill="#000"/>
<circle cx="564.65" cy="247.60" r="2.25" fill="#000"/>
<circle cx="601.37" cy="241.36" r="2.25" fill="#000"/>
</g>
<rect x="50.6" y="98.85" width="550.65" height="354.25" fill="none" stroke="#000" stroke-width="1.6"/>
<line x1="46" y1="418.40" x2="50.6" y2="418.40" stroke="#000" stroke-width="1.1"/>
<text x="43" y="424.10" font-size="14" text-anchor="end" fill="#111">55</text>
<line x1="46" y1="371.81" x2="50.6" y2="371.81" stroke="#000" stroke-width="1.1"/>
<text x="43" y="377.51" font-size="14" text-anchor="end" fill="#111">60</text>
<line x1="46" y1="325.22" x2="50.6" y2="325.22" stroke="#000" stroke-width="1.1"/>
<text x="43" y="330.92" font-size="14" text-anchor="end" fill="#111">65</text>
<line x1="46" y1="278.63" x2="50.6" y2="278.63" stroke="#000" stroke-width="1.1"/>
<text x="43" y="284.33" font-size="14" text-anchor="end" fill="#111">70</text>
<line x1="46" y1="232.04" x2="50.6" y2="232.04" stroke="#000" stroke-width="1.1"/>
<text x="43" y="237.74" font-size="14" text-anchor="end" fill="#111">75</text>
<line x1="46" y1="185.45" x2="50.6" y2="185.45" stroke="#000" stroke-width="1.1"/>
<text x="43" y="191.15" font-size="14" text-anchor="end" fill="#111">80</text>
<line x1="46" y1="138.86" x2="50.6" y2="138.86" stroke="#000" stroke-width="1.1"/>
<text x="43" y="144.56" font-size="14" text-anchor="end" fill="#111">85</text>
<line x1="50.57" y1="453.1" x2="50.57" y2="456.8" stroke="#000" stroke-width="1.4"/>
<text x="37.57" y="467.8" font-size="12.6" textLength="26.0" lengthAdjust="spacingAndGlyphs" fill="#000">3SEP</text>
<line x1="124.01" y1="453.1" x2="124.01" y2="456.8" stroke="#000" stroke-width="1.4"/>
<text x="110.51" y="467.8" font-size="12.6" textLength="27.0" lengthAdjust="spacingAndGlyphs" fill="#000">5SEP</text>
<line x1="197.45" y1="453.1" x2="197.45" y2="456.8" stroke="#000" stroke-width="1.4"/>
<text x="183.95" y="467.8" font-size="12.6" textLength="27.0" lengthAdjust="spacingAndGlyphs" fill="#000">7SEP</text>
<line x1="270.89" y1="453.1" x2="270.89" y2="456.8" stroke="#000" stroke-width="1.4"/>
<text x="257.39" y="467.8" font-size="12.6" textLength="27.0" lengthAdjust="spacingAndGlyphs" fill="#000">9SEP</text>
<line x1="344.33" y1="453.1" x2="344.33" y2="456.8" stroke="#000" stroke-width="1.4"/>
<text x="328.13" y="467.8" font-size="12.6" textLength="32.4" lengthAdjust="spacingAndGlyphs" fill="#000">11SEP</text>
<line x1="417.77" y1="453.1" x2="417.77" y2="456.8" stroke="#000" stroke-width="1.4"/>
<text x="400.97" y="467.8" font-size="12.6" textLength="33.6" lengthAdjust="spacingAndGlyphs" fill="#000">13SEP</text>
<line x1="491.21" y1="453.1" x2="491.21" y2="456.8" stroke="#000" stroke-width="1.4"/>
<text x="474.41" y="467.8" font-size="12.6" textLength="33.6" lengthAdjust="spacingAndGlyphs" fill="#000">15SEP</text>
<line x1="564.65" y1="453.1" x2="564.65" y2="456.8" stroke="#000" stroke-width="1.4"/>
<text x="547.85" y="467.8" font-size="12.6" textLength="33.6" lengthAdjust="spacingAndGlyphs" fill="#000">17SEP</text>
<text x="37.6" y="479.8" font-size="12.6" textLength="25.9" lengthAdjust="spacingAndGlyphs" fill="#000">2024</text>
<text x="185.4" y="21.3" font-size="17.5" word-spacing="1.75" letter-spacing="0.26" textLength="259.5" lengthAdjust="spacingAndGlyphs" fill="#000" stroke="#fff" stroke-width="0.39">US Soybeans Temperature</text>
<text x="67.8" y="44.0" font-size="14" word-spacing="1.40" letter-spacing="0.21" textLength="493.6" lengthAdjust="spacingAndGlyphs" fill="#000" stroke="#fff" stroke-width="0.18">Forecast Daily–Mean Temperature Compared to Normal (°F)</text>
<text x="173.8" y="63.8" font-size="14" word-spacing="1.40" letter-spacing="0.21" textLength="281.8" lengthAdjust="spacingAndGlyphs" fill="#000" stroke="#fff" stroke-width="0.18">Production–Weighted Area Average</text>
<text x="113" y="83.6" font-size="14" word-spacing="1.40" letter-spacing="0.21" textLength="406.0" lengthAdjust="spacingAndGlyphs" fill="#000" stroke="#fff" stroke-width="0.18">15–Day Forecast Beginning 3 September 2024</text>
<text x="6.0" y="266.8" font-size="15" word-spacing="1.50" letter-spacing="0.22" textLength="16.6" lengthAdjust="spacingAndGlyphs" fill="#000" stroke="#fff" stroke-width="0.24">°F</text>
<text x="61.4" y="115.5" font-size="11.7" word-spacing="1.17" letter-spacing="0.18" textLength="311.8" lengthAdjust="spacingAndGlyphs" fill="#000" stroke="#fff" stroke-width="0.04">National Weather Service Global Forecast System</text>
<text x="117.8" y="131.3" font-size="11.7" word-spacing="1.17" letter-spacing="0.18" textLength="121.2" lengthAdjust="spacingAndGlyphs" fill="#000" stroke="#fff" stroke-width="0.04">Ensemble Members</text>
<text x="326.2" y="131.3" font-size="11.7" word-spacing="1.17" letter-spacing="0.18" textLength="113.4" lengthAdjust="spacingAndGlyphs" fill="#000" stroke="#fff" stroke-width="0.04">Ensemble Average</text>
<text x="533.6" y="131.3" font-size="11.7" word-spacing="1.17" letter-spacing="0.18" textLength="45.6" lengthAdjust="spacingAndGlyphs" fill="#000" stroke="#fff" stroke-width="0.04">Normal</text>
<text x="464.8" y="445.4" font-size="12" word-spacing="1.20" letter-spacing="0.18" textLength="125.8" lengthAdjust="spacingAndGlyphs" fill="#000" stroke="#fff" stroke-width="0.06"><tspan font-size="13.5">©</tspan> World Ag Weather</text>
<line x1="67.5" y1="126.7" x2="106.4" y2="126.7" stroke="#b0b0b0" stroke-width="1.5"/>
<circle cx="67.5" cy="126.7" r="2.5" fill="#aaa"/><circle cx="106.4" cy="126.7" r="2.5" fill="#aaa"/>
<rect x="275.3" y="121.9" width="39.7" height="4.6" fill="#5aa8fc"/><rect x="275.3" y="126.8" width="39.7" height="4.9" fill="#fa5a5a"/>
<line x1="275.6" y1="126.7" x2="314.9" y2="126.7" stroke="#000" stroke-width="0.9"/>
<circle cx="275.6" cy="126.8" r="2.7" fill="#000"/><circle cx="314.9" cy="126.8" r="2.7" fill="#000"/>
<line x1="482.5" y1="126.6" x2="523.6" y2="126.6" stroke="#1f35ee" stroke-width="2.4"/>
</svg></body></html>
